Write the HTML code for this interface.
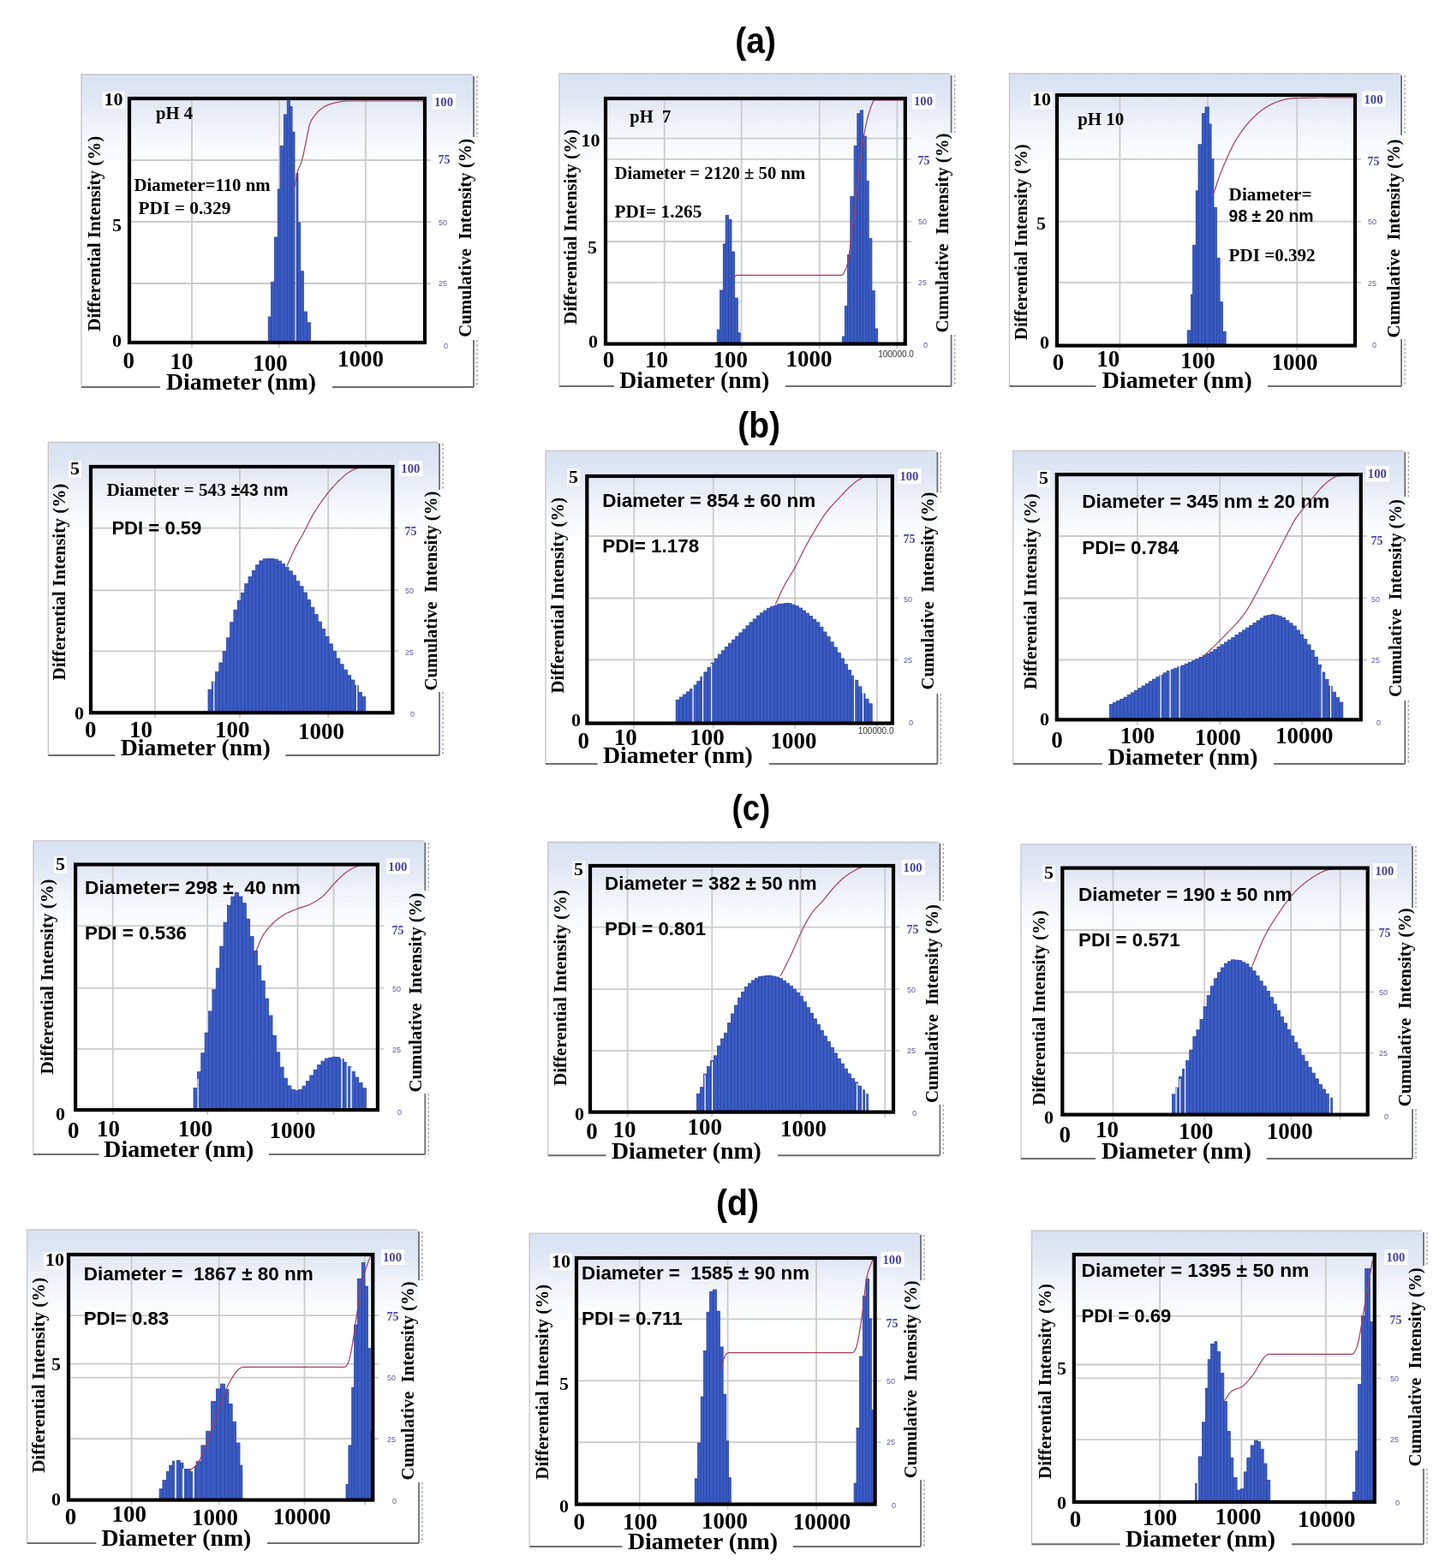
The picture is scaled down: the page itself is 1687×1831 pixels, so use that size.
<!DOCTYPE html>
<html><head><meta charset="utf-8"><title>DLS size distributions</title><style>html,body{margin:0;padding:0;background:#fff;overflow:hidden}svg{display:block}</style></head><body>
<svg width="1687" height="1831" viewBox="0 0 1687 1831">
<defs><linearGradient id="bg" x1="0" y1="0" x2="0" y2="1"><stop offset="0" stop-color="#d9e1f2"/><stop offset="0.08" stop-color="#e1e7f4"/><stop offset="0.16" stop-color="#eff2f9"/><stop offset="0.24" stop-color="#fafbfd"/><stop offset="0.3" stop-color="#ffffff"/><stop offset="1" stop-color="#ffffff"/></linearGradient></defs>
<rect width="1687" height="1831" fill="#fff"/>
<rect x="95" y="87" width="458" height="365" fill="url(#bg)"/>
<path d="M95,452 L95,87 L551,87" fill="none" stroke="#c6c6c6" stroke-width="1.3"/>
<path d="M95,452 L187,452 M388,452 L553,452" fill="none" stroke="#6e6e6e" stroke-width="2"/>
<line x1="553" y1="89" x2="553" y2="160" stroke="#6a6e76" stroke-width="1.8"/>
<line x1="557" y1="89" x2="557" y2="160" stroke="#9a9a9a" stroke-width="1.3" stroke-dasharray="2.5,2.5"/>
<line x1="553" y1="397" x2="553" y2="452" stroke="#6a6e76" stroke-width="1.8"/>
<line x1="557" y1="397" x2="557" y2="452" stroke="#9a9a9a" stroke-width="1.3" stroke-dasharray="2.5,2.5"/>
<path d="M224,113 L224,406 M326,113 L326,406 M427,113 L427,406 M149,187 L503,187 M149,259 L503,259 M149,331 L503,331" stroke="#cbcbcb" stroke-width="1.8" fill="none"/>
<g fill="#3a5bc3" stroke="#2a47a6" stroke-width="0.8"><rect x="313.20" y="370.00" width="3.40" height="28.50"/><rect x="316.60" y="329.40" width="3.70" height="69.10"/><rect x="320.30" y="277.00" width="3.90" height="121.50"/><rect x="324.20" y="221.00" width="2.90" height="177.50"/><rect x="327.10" y="170.30" width="4.20" height="228.20"/><rect x="331.30" y="133.90" width="3.90" height="264.60"/><rect x="335.20" y="116.00" width="3.40" height="282.50"/><rect x="338.60" y="124.50" width="2.50" height="274.00"/><rect x="341.10" y="154.20" width="2.90" height="244.30"/></g>
<g fill="#3a5bc3" stroke="#2a47a6" stroke-width="0.8"><rect x="346.00" y="202.40" width="2.00" height="196.10"/><rect x="348.00" y="260.00" width="2.80" height="138.50"/><rect x="350.80" y="316.70" width="3.70" height="81.80"/><rect x="354.50" y="364.00" width="3.90" height="34.50"/><rect x="358.40" y="376.80" width="4.20" height="21.70"/></g>
<path d="M343.8,219.3 L344.4,215.9 L345.0,212.4 L345.5,208.9 L346.1,205.7 L346.7,203.0 L347.2,201.1 L347.7,199.4 L348.2,198.0 L348.7,196.7 L349.2,195.6 L349.7,194.5 L350.2,193.5 L350.7,192.4 L351.2,191.2 L351.7,189.9 L352.2,188.4 L352.7,186.7 L353.2,184.5 L353.8,182.1 L354.4,179.6 L354.9,176.9 L355.4,174.1 L356.0,171.4 L356.6,168.6 L357.1,166.0 L357.6,163.6 L358.1,161.1 L358.6,158.6 L359.1,156.0 L359.6,153.5 L360.1,151.2 L360.6,148.9 L361.1,146.9 L361.6,145.2 L362.1,143.6 L362.7,142.2 L363.2,141.0 L363.7,140.0 L364.3,139.1 L364.8,138.3 L365.4,137.6 L365.9,136.9 L366.4,136.3 L367.0,135.6 L367.5,134.9 L368.0,134.2 L368.5,133.5 L369.1,132.9 L369.6,132.2 L370.1,131.6 L370.6,131.1 L371.2,130.5 L371.7,130.0 L372.2,129.5 L372.7,129.0 L373.3,128.5 L373.8,128.0 L374.3,127.6 L374.8,127.2 L375.4,126.8 L375.9,126.4 L376.4,126.0 L376.9,125.6 L377.4,125.3 L377.9,125.0 L378.4,124.7 L379.0,124.4 L379.5,124.1 L380.0,123.9 L380.5,123.6 L381.0,123.4 L381.5,123.1 L382.0,122.9 L382.5,122.7 L383.0,122.5 L383.5,122.3 L384.1,122.1 L384.6,121.9 L385.1,121.8 L385.6,121.6 L386.1,121.4 L386.6,121.3 L387.1,121.1 L387.6,121.0 L388.1,120.8 L388.6,120.7 L389.2,120.6 L389.7,120.4 L390.2,120.3 L390.7,120.1 L391.2,120.0 L391.7,119.9 L392.2,119.7 L392.7,119.6 L393.2,119.5 L393.8,119.4 L394.3,119.3 L394.8,119.2 L395.3,119.0 L395.8,119.0 L396.3,118.9 L396.8,118.8 L397.3,118.7 L397.8,118.6 L398.3,118.5 L398.9,118.5 L399.4,118.4 L399.9,118.3 L400.4,118.3 L400.9,118.2 L401.4,118.2 L401.9,118.2 L402.4,118.1 L402.9,118.1 L403.4,118.1 L404.0,118.0 L404.5,118.0 L405.0,118.0 L405.5,118.0 L406.0,118.0 L406.5,118.0 L407.0,118.0 L407.5,118.0 L408.0,118.0 L408.5,118.0 L409.0,118.0 L409.5,118.0 L410.0,118.0 L410.5,118.0 L411.0,118.0 L411.5,118.0 L412.0,118.0 L412.5,118.0 L413.0,118.0 L413.5,118.0 L414.0,118.0 L414.5,118.0 L415.0,118.0 L415.5,118.0 L416.0,118.0 L416.5,118.0 L417.0,118.0 L417.5,118.0 L418.0,118.0 L418.5,118.0 L419.0,118.0 L419.5,118.0 L420.0,118.0 L420.5,118.0 L421.0,118.0 L421.5,118.0 L422.0,118.0 L422.5,118.0 L423.0,118.0 L423.5,118.0 L424.0,118.0 L424.5,118.0 L425.0,118.0 L425.5,118.0 L426.0,118.0 L426.5,118.0 L427.0,118.0 L427.5,118.0 L428.0,118.0 L428.5,118.0 L429.0,118.0 L429.5,118.0 L430.0,118.0 L430.5,118.0 L431.0,118.0 L431.5,118.0 L432.0,118.0 L432.5,118.0 L433.0,118.0 L433.5,118.0 L434.0,118.0 L434.5,118.0 L435.0,118.0 L435.5,118.0 L436.0,118.0 L436.5,118.0 L437.0,118.0 L437.5,118.0 L438.0,118.0 L438.5,118.0 L439.0,118.0 L439.5,118.0 L440.0,118.0 L440.5,118.0 L441.0,118.0 L441.5,118.0 L442.0,118.0 L442.5,118.0 L443.0,118.0 L443.5,118.0 L444.0,118.0 L444.5,118.0 L445.0,118.0 L445.5,118.0 L446.0,118.0 L446.5,118.0 L447.0,118.0 L447.5,118.0 L448.0,118.0 L448.5,118.0 L449.0,118.0 L449.5,118.0 L450.0,118.0 L450.5,118.0 L451.0,118.0 L451.5,118.0 L452.0,118.0 L452.5,118.0 L453.0,118.0 L453.5,118.0 L454.0,118.0 L454.5,118.0 L455.0,118.0 L455.5,118.0 L456.0,118.0 L456.5,118.0 L457.0,118.0 L457.5,118.0 L458.0,118.0 L458.5,118.0 L459.0,118.0 L459.5,118.0 L460.0,118.0 L460.5,118.0 L461.0,118.0 L461.5,118.0 L462.0,118.0 L462.5,118.0 L463.0,118.0 L463.5,118.0 L464.0,118.0 L464.5,118.0 L465.0,118.0 L465.5,118.0 L466.0,118.0 L466.5,118.0 L467.0,118.0 L467.5,118.0 L468.0,118.0 L468.5,118.0 L469.0,118.0 L469.5,118.0 L470.0,118.0 L470.5,118.0 L471.0,118.0 L471.5,118.0 L472.0,118.0 L472.5,118.0 L473.0,118.0 L473.5,118.0 L474.0,118.0 L474.5,118.0 L475.0,118.0 L475.5,118.0 L476.0,118.0 L476.5,118.0 L477.0,118.0 L477.5,118.0 L478.0,118.0 L478.5,118.0 L479.0,118.0 L479.5,118.0 L480.0,118.0 L480.5,118.0 L481.0,118.0 L481.5,118.0 L482.0,118.0 L482.5,118.0 L483.0,118.0 L483.5,118.0 L484.0,118.0 L484.5,118.0 L485.0,118.0 L485.5,118.0 L486.0,118.0 L486.5,118.0 L487.0,118.0 L487.5,118.0 L488.0,118.0 L488.5,118.0 L489.0,118.0 L489.5,118.0 L490.0,118.0 L490.5,118.0 L491.0,118.0 L491.5,118.0 L492.0,118.0 L492.5,118.0 L493.0,118.0 L493.5,118.0 L494.0,118.0 L494.5,118.0 L495.0,118.0" fill="none" stroke="#a83a58" stroke-width="1.2" stroke-linejoin="round"/>
<rect x="151" y="115" width="345" height="285" fill="none" stroke="#000" stroke-width="4.2"/>
<rect x="119.5" y="107.0" width="26.0" height="20" fill="#fff" opacity="0.85"/>
<text x="143.5" y="123.0" font-size="22" font-family="'Liberation Serif', 'Times New Roman', serif" font-weight="bold" fill="#000" text-anchor="end">10</text>
<rect x="129.0" y="253.5" width="15.0" height="20" fill="#fff" opacity="0.85"/>
<text x="142.0" y="269.5" font-size="22" font-family="'Liberation Serif', 'Times New Roman', serif" font-weight="bold" fill="#000" text-anchor="end">5</text>
<rect x="129.0" y="388.5" width="15.0" height="20" fill="#fff" opacity="0.85"/>
<text x="142.0" y="404.5" font-size="22" font-family="'Liberation Serif', 'Times New Roman', serif" font-weight="bold" fill="#000" text-anchor="end">0</text>
<rect x="505.0" y="109.5" width="27" height="18" fill="#fff"/>
<text x="507.0" y="123.5" font-size="15" font-family="'Liberation Serif', 'Times New Roman', serif" font-weight="bold" fill="#4444a4" textLength="22.0" lengthAdjust="spacingAndGlyphs">100</text>
<text x="511.5" y="191.0" font-size="14" font-family="'Liberation Serif', 'Times New Roman', serif" font-weight="bold" fill="#4848aa" textLength="14.0" lengthAdjust="spacingAndGlyphs">75</text>
<text x="512.0" y="262.8" font-size="9" font-family="'Liberation Sans', Arial, sans-serif" font-weight="normal" fill="#5858a8">50</text>
<text x="512.0" y="334.2" font-size="9" font-family="'Liberation Sans', Arial, sans-serif" font-weight="normal" fill="#5858a8">25</text>
<text x="518.0" y="407.2" font-size="9" font-family="'Liberation Sans', Arial, sans-serif" font-weight="normal" fill="#5858a8">0</text>
<text x="150.2" y="430.0" font-size="27.5" font-family="'Liberation Serif', 'Times New Roman', serif" font-weight="bold" fill="#000" text-anchor="middle" textLength="13.5" lengthAdjust="spacingAndGlyphs">0</text>
<text x="212.0" y="431.0" font-size="27.5" font-family="'Liberation Serif', 'Times New Roman', serif" font-weight="bold" fill="#000" text-anchor="middle" textLength="27.0" lengthAdjust="spacingAndGlyphs">10</text>
<text x="315.6" y="433.0" font-size="27.5" font-family="'Liberation Serif', 'Times New Roman', serif" font-weight="bold" fill="#000" text-anchor="middle" textLength="40.5" lengthAdjust="spacingAndGlyphs">100</text>
<text x="421.0" y="428.0" font-size="27.5" font-family="'Liberation Serif', 'Times New Roman', serif" font-weight="bold" fill="#000" text-anchor="middle" textLength="54.0" lengthAdjust="spacingAndGlyphs">1000</text>
<text x="281.5" y="455.0" font-size="28" font-family="'Liberation Serif', 'Times New Roman', serif" font-weight="bold" fill="#000" text-anchor="middle" textLength="175.0" lengthAdjust="spacingAndGlyphs">Diameter (nm)</text>
<text x="117.2" y="272.7" font-size="21" font-family="'Liberation Serif', 'Times New Roman', serif" font-weight="bold" fill="#000" text-anchor="middle" textLength="228.0" lengthAdjust="spacingAndGlyphs" transform="rotate(-90 117.2 272.7)">Differential Intensity (%)</text>
<text x="549.8" y="277.8" font-size="21" font-family="'Liberation Serif', 'Times New Roman', serif" font-weight="bold" fill="#000" text-anchor="middle" textLength="232.0" lengthAdjust="spacingAndGlyphs" transform="rotate(-90 549.8 277.8)">Cumulative  Intensity (%)</text>
<text x="182.0" y="139.3" font-size="20" font-family="'Liberation Serif', 'Times New Roman', serif" font-weight="bold" fill="#000" textLength="43.0" lengthAdjust="spacingAndGlyphs">pH 4</text>
<text x="156.5" y="222.9" font-size="20" font-family="'Liberation Serif', 'Times New Roman', serif" font-weight="bold" fill="#000" textLength="159.0" lengthAdjust="spacingAndGlyphs">Diameter=110 nm</text>
<text x="161.5" y="250.4" font-size="20" font-family="'Liberation Serif', 'Times New Roman', serif" font-weight="bold" fill="#000" textLength="108.0" lengthAdjust="spacingAndGlyphs">PDI = 0.329</text>
<rect x="653" y="86" width="457.5999999999999" height="365" fill="url(#bg)"/>
<path d="M653,451 L653,86 L1108.6,86" fill="none" stroke="#c6c6c6" stroke-width="1.3"/>
<path d="M653,451 L717,451 M917,451 L1110.6,451" fill="none" stroke="#6e6e6e" stroke-width="2"/>
<line x1="1110.6" y1="88" x2="1110.6" y2="155" stroke="#6a6e76" stroke-width="1.8"/>
<line x1="1114.6" y1="88" x2="1114.6" y2="155" stroke="#9a9a9a" stroke-width="1.3" stroke-dasharray="2.5,2.5"/>
<line x1="1110.6" y1="391" x2="1110.6" y2="451" stroke="#6a6e76" stroke-width="1.8"/>
<line x1="1114.6" y1="391" x2="1114.6" y2="451" stroke="#9a9a9a" stroke-width="1.3" stroke-dasharray="2.5,2.5"/>
<path d="M775.7,113 L775.7,407.6 M865.6,113 L865.6,407.6 M956.7,113 L956.7,407.6 M1047.4,113 L1047.4,407.6 M705,161.7 L1063.8,161.7 M705,185.8 L1063.8,185.8 M705,258.7 L1063.8,258.7 M705,282 L1063.8,282 M705,329.8 L1063.8,329.8" stroke="#cbcbcb" stroke-width="1.8" fill="none"/>
<g fill="#3a5bc3" stroke="#2a47a6" stroke-width="0.8"><rect x="837.20" y="385.00" width="3.40" height="15.10"/><rect x="840.60" y="339.00" width="3.70" height="61.10"/><rect x="844.30" y="284.90" width="2.80" height="115.20"/><rect x="847.10" y="251.30" width="3.50" height="148.80"/><rect x="850.60" y="256.40" width="3.40" height="143.70"/><rect x="854.00" y="294.00" width="3.70" height="106.10"/><rect x="857.70" y="348.00" width="3.70" height="52.10"/><rect x="861.40" y="388.70" width="2.80" height="11.40"/></g>
<g fill="#3a5bc3" stroke="#2a47a6" stroke-width="0.8"><rect x="983.40" y="393.00" width="2.90" height="7.10"/><rect x="986.30" y="357.40" width="3.10" height="42.70"/><rect x="989.40" y="297.70" width="3.40" height="102.40"/><rect x="992.80" y="229.40" width="4.30" height="170.70"/><rect x="997.10" y="170.50" width="3.70" height="229.60"/><rect x="1000.80" y="132.60" width="3.40" height="267.50"/><rect x="1004.20" y="128.90" width="3.40" height="271.20"/><rect x="1007.60" y="159.10" width="3.70" height="241.00"/><rect x="1011.30" y="211.50" width="2.90" height="188.60"/><rect x="1014.20" y="278.60" width="3.70" height="121.50"/><rect x="1017.90" y="339.50" width="3.40" height="60.60"/><rect x="1021.30" y="383.90" width="3.40" height="16.20"/></g>
<path d="M856.8,324.1 L857.3,323.7 L857.9,323.1 L858.4,322.6 L858.9,322.1 L859.4,321.7 L860.0,321.4 L860.5,321.3 L861.0,321.3 L861.5,321.3 L862.0,321.3 L862.5,321.3 L863.0,321.3 L863.5,321.3 L864.0,321.3 L864.5,321.3 L865.0,321.3 L865.5,321.3 L866.0,321.3 L866.5,321.3 L867.0,321.3 L867.5,321.3 L868.0,321.3 L868.5,321.3 L869.0,321.3 L869.5,321.3 L870.0,321.3 L870.5,321.3 L871.0,321.3 L871.5,321.3 L872.0,321.3 L872.5,321.3 L873.0,321.3 L873.5,321.3 L874.0,321.3 L874.5,321.3 L875.0,321.3 L875.5,321.3 L876.1,321.3 L876.6,321.3 L877.1,321.3 L877.6,321.3 L878.1,321.3 L878.6,321.3 L879.1,321.3 L879.6,321.3 L880.1,321.3 L880.6,321.3 L881.1,321.3 L881.6,321.3 L882.1,321.3 L882.6,321.3 L883.1,321.3 L883.6,321.3 L884.1,321.3 L884.6,321.3 L885.1,321.3 L885.6,321.3 L886.1,321.3 L886.6,321.3 L887.1,321.3 L887.6,321.3 L888.1,321.3 L888.6,321.3 L889.1,321.3 L889.6,321.3 L890.1,321.3 L890.6,321.3 L891.1,321.3 L891.6,321.3 L892.1,321.3 L892.6,321.3 L893.1,321.3 L893.6,321.3 L894.1,321.3 L894.6,321.3 L895.1,321.3 L895.6,321.3 L896.1,321.3 L896.6,321.3 L897.1,321.3 L897.6,321.3 L898.1,321.3 L898.6,321.3 L899.1,321.3 L899.6,321.3 L900.1,321.3 L900.6,321.3 L901.1,321.3 L901.6,321.3 L902.1,321.3 L902.6,321.3 L903.1,321.3 L903.6,321.3 L904.1,321.3 L904.6,321.3 L905.1,321.3 L905.6,321.3 L906.1,321.3 L906.7,321.3 L907.2,321.3 L907.7,321.3 L908.2,321.3 L908.7,321.3 L909.2,321.3 L909.7,321.3 L910.2,321.3 L910.7,321.3 L911.2,321.3 L911.7,321.3 L912.2,321.3 L912.7,321.3 L913.2,321.3 L913.7,321.3 L914.2,321.3 L914.7,321.3 L915.2,321.3 L915.7,321.3 L916.2,321.3 L916.7,321.3 L917.2,321.3 L917.7,321.3 L918.2,321.3 L918.7,321.3 L919.2,321.3 L919.7,321.3 L920.2,321.3 L920.7,321.3 L921.2,321.3 L921.7,321.3 L922.2,321.3 L922.7,321.3 L923.2,321.3 L923.7,321.3 L924.2,321.3 L924.7,321.3 L925.2,321.3 L925.7,321.3 L926.2,321.3 L926.7,321.3 L927.2,321.3 L927.7,321.3 L928.2,321.3 L928.7,321.3 L929.2,321.3 L929.7,321.3 L930.2,321.3 L930.7,321.3 L931.2,321.3 L931.7,321.3 L932.2,321.3 L932.7,321.3 L933.2,321.3 L933.7,321.3 L934.2,321.3 L934.7,321.3 L935.2,321.3 L935.7,321.3 L936.2,321.3 L936.7,321.3 L937.3,321.3 L937.8,321.3 L938.3,321.3 L938.8,321.3 L939.3,321.3 L939.8,321.3 L940.3,321.3 L940.8,321.3 L941.3,321.3 L941.8,321.3 L942.3,321.3 L942.8,321.3 L943.3,321.3 L943.8,321.3 L944.3,321.3 L944.8,321.3 L945.3,321.3 L945.8,321.3 L946.3,321.3 L946.8,321.3 L947.3,321.3 L947.8,321.3 L948.3,321.3 L948.8,321.3 L949.3,321.3 L949.8,321.3 L950.3,321.3 L950.8,321.3 L951.3,321.3 L951.8,321.3 L952.3,321.3 L952.8,321.3 L953.3,321.3 L953.8,321.3 L954.3,321.3 L954.8,321.3 L955.3,321.3 L955.8,321.3 L956.3,321.3 L956.8,321.3 L957.3,321.3 L957.8,321.3 L958.3,321.3 L958.8,321.3 L959.3,321.3 L959.8,321.3 L960.3,321.3 L960.8,321.3 L961.3,321.3 L961.8,321.3 L962.3,321.3 L962.8,321.3 L963.3,321.3 L963.8,321.3 L964.3,321.3 L964.8,321.3 L965.3,321.3 L965.8,321.3 L966.3,321.3 L966.8,321.3 L967.3,321.3 L967.9,321.3 L968.4,321.3 L968.9,321.3 L969.4,321.3 L969.9,321.3 L970.4,321.3 L970.9,321.3 L971.4,321.3 L971.9,321.3 L972.4,321.3 L972.9,321.3 L973.4,321.3 L973.9,321.3 L974.4,321.3 L974.9,321.3 L975.4,321.3 L975.9,321.3 L976.4,321.3 L976.9,321.3 L977.4,321.3 L977.9,321.3 L978.4,321.3 L978.9,321.3 L979.4,321.3 L979.9,321.3 L980.4,321.3 L980.9,321.3 L981.4,321.3 L981.9,321.3 L982.4,321.3 L982.9,321.3 L983.5,321.1 L984.0,320.6 L984.6,319.8 L985.1,318.8 L985.7,317.6 L986.2,316.5 L986.8,315.4 L987.3,314.2 L987.9,312.9 L988.4,311.4 L988.9,309.6 L989.5,307.4 L990.0,304.8 L990.5,302.0 L991.0,298.9 L991.5,295.5 L992.0,292.0 L992.5,288.3 L993.0,284.4 L993.5,280.3 L994.1,276.2 L994.6,272.0 L995.1,267.7 L995.6,263.4 L996.1,259.2 L996.6,254.9 L997.1,250.7 L997.6,246.5 L998.1,242.1 L998.6,237.6 L999.1,233.0 L999.6,228.3 L1000.1,223.6 L1000.7,218.9 L1001.2,214.2 L1001.7,209.6 L1002.2,205.0 L1002.7,200.6 L1003.2,196.3 L1003.7,192.1 L1004.2,188.1 L1004.7,184.2 L1005.2,180.4 L1005.8,176.7 L1006.3,173.1 L1006.8,169.6 L1007.3,166.2 L1007.8,162.9 L1008.3,159.8 L1008.9,156.8 L1009.4,153.9 L1009.9,151.1 L1010.4,148.5 L1010.9,145.9 L1011.5,143.6 L1012.0,141.3 L1012.5,139.2 L1013.0,137.1 L1013.5,135.2 L1014.0,133.4 L1014.6,131.6 L1015.1,130.0 L1015.6,128.4 L1016.1,126.9 L1016.6,125.3 L1017.2,123.9 L1017.7,122.5 L1018.2,121.2 L1018.7,120.0 L1019.2,119.0 L1019.7,118.2 L1020.3,117.5 L1020.8,117.1 L1021.3,117.0 L1021.8,117.0 L1022.3,117.0 L1022.8,117.0 L1023.3,117.0 L1023.8,117.0 L1024.3,117.0 L1024.8,117.0 L1025.3,117.0 L1025.8,117.0 L1026.3,117.0 L1026.8,117.0 L1027.3,117.0 L1027.8,117.0 L1028.3,117.0 L1028.8,117.0 L1029.3,117.0 L1029.9,117.0 L1030.4,117.0 L1030.9,117.0 L1031.4,117.0 L1031.9,117.0 L1032.4,117.0 L1032.9,117.0 L1033.4,117.0 L1033.9,117.0 L1034.4,117.0 L1034.9,117.0 L1035.4,117.0 L1035.9,117.0 L1036.4,117.0 L1036.9,117.0 L1037.4,117.0 L1037.9,117.0 L1038.4,117.0 L1038.9,117.0 L1039.4,117.0 L1039.9,117.0 L1040.4,117.0 L1040.9,117.0 L1041.4,117.0 L1041.9,117.0 L1042.4,117.0 L1042.9,117.0 L1043.4,117.0 L1043.9,117.0 L1044.4,117.0 L1044.9,117.0 L1045.4,117.0 L1045.9,117.0 L1046.4,117.0 L1047.0,117.0 L1047.5,117.0 L1048.0,117.0 L1048.5,117.0 L1049.0,117.0 L1049.5,117.0 L1050.0,117.0 L1050.5,117.0 L1051.0,117.0 L1051.5,117.0 L1052.0,117.0 L1052.5,117.0 L1053.0,117.0 L1053.5,117.0 L1054.0,117.0 L1054.5,117.0 L1055.0,117.0" fill="none" stroke="#a83a58" stroke-width="1.2" stroke-linejoin="round"/>
<rect x="707" y="115" width="349.79999999999995" height="286.6" fill="none" stroke="#000" stroke-width="4.2"/>
<rect x="676.5" y="155.0" width="26.0" height="20" fill="#fff" opacity="0.85"/>
<text x="700.5" y="171.0" font-size="22" font-family="'Liberation Serif', 'Times New Roman', serif" font-weight="bold" fill="#000" text-anchor="end">10</text>
<rect x="684.0" y="280.0" width="15.0" height="20" fill="#fff" opacity="0.85"/>
<text x="697.0" y="296.0" font-size="22" font-family="'Liberation Serif', 'Times New Roman', serif" font-weight="bold" fill="#000" text-anchor="end">5</text>
<rect x="685.0" y="390.0" width="15.0" height="20" fill="#fff" opacity="0.85"/>
<text x="698.0" y="406.0" font-size="22" font-family="'Liberation Serif', 'Times New Roman', serif" font-weight="bold" fill="#000" text-anchor="end">0</text>
<rect x="1065.0" y="109.4" width="27" height="18" fill="#fff"/>
<text x="1067.0" y="123.4" font-size="15" font-family="'Liberation Serif', 'Times New Roman', serif" font-weight="bold" fill="#4444a4" textLength="22.0" lengthAdjust="spacingAndGlyphs">100</text>
<text x="1071.5" y="191.7" font-size="14" font-family="'Liberation Serif', 'Times New Roman', serif" font-weight="bold" fill="#4848aa" textLength="14.0" lengthAdjust="spacingAndGlyphs">75</text>
<text x="1072.0" y="261.9" font-size="9" font-family="'Liberation Sans', Arial, sans-serif" font-weight="normal" fill="#5858a8">50</text>
<text x="1072.0" y="333.0" font-size="9" font-family="'Liberation Sans', Arial, sans-serif" font-weight="normal" fill="#5858a8">25</text>
<text x="1078.0" y="406.2" font-size="9" font-family="'Liberation Sans', Arial, sans-serif" font-weight="normal" fill="#5858a8">0</text>
<text x="710.6" y="429.0" font-size="27.5" font-family="'Liberation Serif', 'Times New Roman', serif" font-weight="bold" fill="#000" text-anchor="middle" textLength="13.5" lengthAdjust="spacingAndGlyphs">0</text>
<text x="766.6" y="429.0" font-size="27.5" font-family="'Liberation Serif', 'Times New Roman', serif" font-weight="bold" fill="#000" text-anchor="middle" textLength="27.0" lengthAdjust="spacingAndGlyphs">10</text>
<text x="852.8" y="429.0" font-size="27.5" font-family="'Liberation Serif', 'Times New Roman', serif" font-weight="bold" fill="#000" text-anchor="middle" textLength="40.5" lengthAdjust="spacingAndGlyphs">100</text>
<text x="944.4" y="428.0" font-size="27.5" font-family="'Liberation Serif', 'Times New Roman', serif" font-weight="bold" fill="#000" text-anchor="middle" textLength="54.0" lengthAdjust="spacingAndGlyphs">1000</text>
<text x="1046.0" y="416.5" font-size="10" font-family="'Liberation Sans', Arial, sans-serif" font-weight="normal" fill="#333" text-anchor="middle">100000.0</text>
<text x="810.7" y="453.0" font-size="28" font-family="'Liberation Serif', 'Times New Roman', serif" font-weight="bold" fill="#000" text-anchor="middle" textLength="175.0" lengthAdjust="spacingAndGlyphs">Diameter (nm)</text>
<text x="673.0" y="265.0" font-size="21" font-family="'Liberation Serif', 'Times New Roman', serif" font-weight="bold" fill="#000" text-anchor="middle" textLength="228.0" lengthAdjust="spacingAndGlyphs" transform="rotate(-90 673.0 265.0)">Differential Intensity (%)</text>
<text x="1107.0" y="272.0" font-size="21" font-family="'Liberation Serif', 'Times New Roman', serif" font-weight="bold" fill="#000" text-anchor="middle" textLength="233.0" lengthAdjust="spacingAndGlyphs" transform="rotate(-90 1107.0 272.0)">Cumulative  Intensity (%)</text>
<text x="735.3" y="143.0" font-size="20" font-family="'Liberation Serif', 'Times New Roman', serif" font-weight="bold" fill="#000" textLength="48.0" lengthAdjust="spacingAndGlyphs">pH  7</text>
<text x="717.4" y="208.6" font-size="20" font-family="'Liberation Serif', 'Times New Roman', serif" font-weight="bold" fill="#000" textLength="223.0" lengthAdjust="spacingAndGlyphs">Diameter = 2120 ± 50 nm</text>
<text x="717.4" y="254.1" font-size="20" font-family="'Liberation Serif', 'Times New Roman', serif" font-weight="bold" fill="#000" textLength="102.0" lengthAdjust="spacingAndGlyphs">PDI= 1.265</text>
<rect x="1178.5" y="86" width="457.5999999999999" height="365" fill="url(#bg)"/>
<path d="M1178.5,451 L1178.5,86 L1634.1,86" fill="none" stroke="#c6c6c6" stroke-width="1.3"/>
<path d="M1178.5,451 L1279.5,451 M1480,451 L1636.1,451" fill="none" stroke="#6e6e6e" stroke-width="2"/>
<line x1="1636.1" y1="88" x2="1636.1" y2="158" stroke="#6a6e76" stroke-width="1.8"/>
<line x1="1640.1" y1="88" x2="1640.1" y2="158" stroke="#9a9a9a" stroke-width="1.3" stroke-dasharray="2.5,2.5"/>
<line x1="1636.1" y1="396" x2="1636.1" y2="451" stroke="#6a6e76" stroke-width="1.8"/>
<line x1="1640.1" y1="396" x2="1640.1" y2="451" stroke="#9a9a9a" stroke-width="1.3" stroke-dasharray="2.5,2.5"/>
<path d="M1307.4,109 L1307.4,409.6 M1409.9,109 L1409.9,409.6 M1514.3,109 L1514.3,409.6 M1232,185.8 L1589,185.8 M1232,258.7 L1589,258.7 M1232,329.8 L1589,329.8" stroke="#cbcbcb" stroke-width="1.8" fill="none"/>
<g fill="#3a5bc3" stroke="#2a47a6" stroke-width="0.8"><rect x="1386.20" y="385.90" width="4.30" height="16.20"/><rect x="1390.50" y="344.00" width="2.00" height="58.10"/><rect x="1392.50" y="286.30" width="3.70" height="115.80"/><rect x="1396.20" y="222.80" width="2.80" height="179.30"/><rect x="1399.00" y="168.80" width="4.30" height="233.30"/><rect x="1403.30" y="132.60" width="3.70" height="269.50"/><rect x="1407.00" y="125.00" width="4.30" height="277.10"/><rect x="1411.30" y="144.90" width="2.80" height="257.20"/><rect x="1414.10" y="185.80" width="2.90" height="216.30"/><rect x="1417.00" y="242.20" width="3.40" height="159.90"/><rect x="1420.40" y="301.40" width="3.70" height="100.70"/><rect x="1424.10" y="352.60" width="3.40" height="49.50"/><rect x="1427.50" y="387.30" width="3.70" height="14.80"/></g>
<path d="M1416.1,228.0 L1416.6,226.6 L1417.1,225.1 L1417.6,223.7 L1418.1,222.2 L1418.6,220.7 L1419.1,219.2 L1419.6,217.8 L1420.1,216.3 L1420.6,214.8 L1421.1,213.3 L1421.6,211.9 L1422.1,210.4 L1422.6,209.0 L1423.1,207.6 L1423.6,206.2 L1424.1,204.8 L1424.6,203.4 L1425.1,202.1 L1425.6,200.8 L1426.1,199.5 L1426.6,198.2 L1427.1,197.0 L1427.6,195.7 L1428.1,194.5 L1428.6,193.2 L1429.1,192.0 L1429.6,190.8 L1430.2,189.6 L1430.7,188.4 L1431.2,187.2 L1431.7,186.1 L1432.2,184.9 L1432.7,183.8 L1433.2,182.7 L1433.7,181.5 L1434.2,180.4 L1434.7,179.3 L1435.2,178.3 L1435.7,177.2 L1436.2,176.1 L1436.8,175.1 L1437.3,174.1 L1437.8,173.1 L1438.3,172.1 L1438.8,171.1 L1439.3,170.1 L1439.8,169.1 L1440.3,168.2 L1440.8,167.3 L1441.3,166.4 L1441.8,165.5 L1442.3,164.6 L1442.8,163.7 L1443.3,162.8 L1443.8,162.0 L1444.4,161.2 L1444.9,160.4 L1445.4,159.6 L1445.9,158.8 L1446.4,158.0 L1446.9,157.2 L1447.4,156.5 L1447.9,155.7 L1448.4,155.0 L1448.9,154.3 L1449.4,153.6 L1449.9,152.9 L1450.4,152.2 L1451.0,151.5 L1451.5,150.8 L1452.0,150.1 L1452.5,149.5 L1453.0,148.8 L1453.5,148.2 L1454.0,147.5 L1454.5,146.9 L1455.0,146.3 L1455.5,145.7 L1456.0,145.1 L1456.5,144.5 L1457.0,143.9 L1457.5,143.3 L1458.0,142.7 L1458.5,142.1 L1459.0,141.6 L1459.5,141.0 L1460.0,140.5 L1460.5,139.9 L1461.0,139.4 L1461.5,138.9 L1462.0,138.4 L1462.5,137.9 L1463.0,137.4 L1463.6,136.9 L1464.1,136.4 L1464.6,135.9 L1465.1,135.4 L1465.6,135.0 L1466.1,134.5 L1466.6,134.0 L1467.1,133.6 L1467.6,133.2 L1468.1,132.7 L1468.6,132.3 L1469.1,131.9 L1469.6,131.4 L1470.1,131.0 L1470.6,130.6 L1471.1,130.2 L1471.6,129.8 L1472.1,129.4 L1472.6,129.0 L1473.1,128.6 L1473.6,128.3 L1474.1,127.9 L1474.6,127.5 L1475.1,127.2 L1475.6,126.8 L1476.1,126.5 L1476.6,126.2 L1477.1,125.8 L1477.6,125.5 L1478.1,125.2 L1478.6,124.9 L1479.1,124.6 L1479.6,124.3 L1480.2,124.0 L1480.7,123.7 L1481.2,123.4 L1481.7,123.1 L1482.2,122.9 L1482.7,122.6 L1483.2,122.3 L1483.7,122.1 L1484.2,121.8 L1484.7,121.6 L1485.2,121.3 L1485.7,121.1 L1486.2,120.9 L1486.7,120.7 L1487.2,120.4 L1487.7,120.2 L1488.2,120.0 L1488.7,119.8 L1489.2,119.6 L1489.7,119.4 L1490.2,119.2 L1490.7,119.0 L1491.2,118.8 L1491.7,118.6 L1492.2,118.5 L1492.7,118.3 L1493.2,118.1 L1493.7,118.0 L1494.2,117.8 L1494.8,117.6 L1495.3,117.5 L1495.8,117.3 L1496.3,117.2 L1496.8,117.0 L1497.3,116.9 L1497.8,116.8 L1498.3,116.6 L1498.8,116.5 L1499.3,116.4 L1499.8,116.3 L1500.3,116.2 L1500.8,116.0 L1501.3,115.9 L1501.8,115.8 L1502.3,115.7 L1502.8,115.6 L1503.3,115.6 L1503.8,115.5 L1504.3,115.4 L1504.8,115.3 L1505.3,115.2 L1505.9,115.2 L1506.4,115.1 L1506.9,115.0 L1507.4,115.0 L1507.9,114.9 L1508.4,114.9 L1508.9,114.8 L1509.4,114.8 L1509.9,114.8 L1510.4,114.7 L1510.9,114.7 L1511.4,114.7 L1511.9,114.7 L1512.4,114.7 L1512.9,114.6 L1513.4,114.6 L1513.9,114.6 L1514.4,114.6 L1514.9,114.6 L1515.4,114.6 L1515.9,114.5 L1516.4,114.5 L1516.9,114.5 L1517.4,114.5 L1517.9,114.5 L1518.4,114.5 L1518.9,114.4 L1519.4,114.4 L1519.9,114.4 L1520.4,114.4 L1520.9,114.4 L1521.4,114.4 L1521.9,114.4 L1522.4,114.3 L1522.9,114.3 L1523.4,114.3 L1523.9,114.3 L1524.4,114.3 L1524.9,114.3 L1525.4,114.3 L1525.9,114.3 L1526.4,114.3 L1526.9,114.2 L1527.4,114.2 L1527.9,114.2 L1528.4,114.2 L1528.9,114.2 L1529.4,114.2 L1529.9,114.2 L1530.4,114.2 L1530.9,114.2 L1531.4,114.1 L1531.9,114.1 L1532.4,114.1 L1532.9,114.1 L1533.4,114.1 L1533.9,114.1 L1534.4,114.1 L1534.9,114.1 L1535.4,114.1 L1535.9,114.1 L1536.4,114.1 L1536.9,114.1 L1537.4,114.1 L1537.9,114.0 L1538.4,114.0 L1538.9,114.0 L1539.4,114.0 L1539.9,114.0 L1540.4,114.0 L1540.9,114.0 L1541.4,114.0 L1541.9,114.0 L1542.4,114.0 L1542.9,114.0 L1543.4,114.0 L1543.9,114.0 L1544.4,114.0 L1544.9,114.0 L1545.4,114.0 L1545.9,114.0 L1546.4,114.0 L1547.0,113.9 L1547.5,113.9 L1548.0,113.9 L1548.5,113.9 L1549.0,113.9 L1549.5,113.9 L1550.0,113.9 L1550.5,113.9 L1551.0,113.9 L1551.5,113.9 L1552.0,113.9 L1552.5,113.9 L1553.0,113.9 L1553.5,113.9 L1554.0,113.9 L1554.5,113.9 L1555.0,113.9 L1555.5,113.9 L1556.0,113.9 L1556.5,113.9 L1557.0,113.9 L1557.5,113.9 L1558.0,113.9 L1558.5,113.9 L1559.0,113.9 L1559.5,113.9 L1560.0,113.9 L1560.5,113.9 L1561.0,113.9 L1561.5,113.9 L1562.0,113.9 L1562.5,113.9 L1563.0,113.9 L1563.5,113.9 L1564.0,113.9 L1564.5,113.9 L1565.0,113.9 L1565.5,113.9 L1566.0,113.9 L1566.5,113.8 L1567.0,113.8 L1567.5,113.8 L1568.0,113.8 L1568.5,113.8 L1569.0,113.8 L1569.5,113.8 L1570.0,113.8 L1570.5,113.8 L1571.0,113.8 L1571.5,113.8 L1572.0,113.8 L1572.5,113.8 L1573.0,113.8 L1573.5,113.8 L1574.0,113.8 L1574.5,113.8 L1575.0,113.8 L1575.5,113.8 L1576.0,113.8 L1576.5,113.8 L1577.0,113.8 L1577.5,113.8 L1578.0,113.8 L1578.5,113.8 L1579.0,113.8 L1579.5,113.8 L1580.0,113.8 L1580.5,113.8 L1581.0,113.8 L1581.5,113.8 L1582.0,113.8" fill="none" stroke="#a83a58" stroke-width="1.2" stroke-linejoin="round"/>
<rect x="1234" y="111" width="348" height="292.6" fill="none" stroke="#000" stroke-width="4.2"/>
<rect x="1203.0" y="107.3" width="26.0" height="20" fill="#fff" opacity="0.85"/>
<text x="1227.0" y="123.3" font-size="22" font-family="'Liberation Serif', 'Times New Roman', serif" font-weight="bold" fill="#000" text-anchor="end">10</text>
<rect x="1208.0" y="252.0" width="15.0" height="20" fill="#fff" opacity="0.85"/>
<text x="1221.0" y="268.0" font-size="22" font-family="'Liberation Serif', 'Times New Roman', serif" font-weight="bold" fill="#000" text-anchor="end">5</text>
<rect x="1212.0" y="390.5" width="15.0" height="20" fill="#fff" opacity="0.85"/>
<text x="1225.0" y="406.5" font-size="22" font-family="'Liberation Serif', 'Times New Roman', serif" font-weight="bold" fill="#000" text-anchor="end">0</text>
<rect x="1590.5" y="106.6" width="27" height="18" fill="#fff"/>
<text x="1592.5" y="120.6" font-size="15" font-family="'Liberation Serif', 'Times New Roman', serif" font-weight="bold" fill="#4444a4" textLength="22.0" lengthAdjust="spacingAndGlyphs">100</text>
<text x="1596.5" y="193.0" font-size="14" font-family="'Liberation Serif', 'Times New Roman', serif" font-weight="bold" fill="#4848aa" textLength="14.0" lengthAdjust="spacingAndGlyphs">75</text>
<text x="1597.0" y="261.9" font-size="9" font-family="'Liberation Sans', Arial, sans-serif" font-weight="normal" fill="#5858a8">50</text>
<text x="1597.0" y="333.6" font-size="9" font-family="'Liberation Sans', Arial, sans-serif" font-weight="normal" fill="#5858a8">25</text>
<text x="1602.0" y="406.2" font-size="9" font-family="'Liberation Sans', Arial, sans-serif" font-weight="normal" fill="#5858a8">0</text>
<text x="1235.4" y="431.9" font-size="27.5" font-family="'Liberation Serif', 'Times New Roman', serif" font-weight="bold" fill="#000" text-anchor="middle" textLength="13.5" lengthAdjust="spacingAndGlyphs">0</text>
<text x="1293.8" y="427.6" font-size="27.5" font-family="'Liberation Serif', 'Times New Roman', serif" font-weight="bold" fill="#000" text-anchor="middle" textLength="27.0" lengthAdjust="spacingAndGlyphs">10</text>
<text x="1398.5" y="430.4" font-size="27.5" font-family="'Liberation Serif', 'Times New Roman', serif" font-weight="bold" fill="#000" text-anchor="middle" textLength="40.5" lengthAdjust="spacingAndGlyphs">100</text>
<text x="1511.4" y="431.9" font-size="27.5" font-family="'Liberation Serif', 'Times New Roman', serif" font-weight="bold" fill="#000" text-anchor="middle" textLength="54.0" lengthAdjust="spacingAndGlyphs">1000</text>
<text x="1374.3" y="453.0" font-size="28" font-family="'Liberation Serif', 'Times New Roman', serif" font-weight="bold" fill="#000" text-anchor="middle" textLength="175.0" lengthAdjust="spacingAndGlyphs">Diameter (nm)</text>
<text x="1198.8" y="282.7" font-size="21" font-family="'Liberation Serif', 'Times New Roman', serif" font-weight="bold" fill="#000" text-anchor="middle" textLength="229.0" lengthAdjust="spacingAndGlyphs" transform="rotate(-90 1198.8 282.7)">Differential Intensity (%)</text>
<text x="1634.0" y="278.5" font-size="21" font-family="'Liberation Serif', 'Times New Roman', serif" font-weight="bold" fill="#000" text-anchor="middle" textLength="232.0" lengthAdjust="spacingAndGlyphs" transform="rotate(-90 1634.0 278.5)">Cumulative  Intensity (%)</text>
<text x="1258.2" y="146.0" font-size="20" font-family="'Liberation Serif', 'Times New Roman', serif" font-weight="bold" fill="#000" textLength="54.0" lengthAdjust="spacingAndGlyphs">pH 10</text>
<text x="1434.6" y="233.6" font-size="20" font-family="'Liberation Serif', 'Times New Roman', serif" font-weight="bold" fill="#000" textLength="97.0" lengthAdjust="spacingAndGlyphs">Diameter=</text>
<text x="1434.6" y="258.7" font-size="20" font-family="'Liberation Sans', Arial, sans-serif" font-weight="bold" fill="#000" textLength="99.0" lengthAdjust="spacingAndGlyphs">98 ± 20 nm</text>
<text x="1434.6" y="304.8" font-size="20" font-family="'Liberation Serif', 'Times New Roman', serif" font-weight="bold" fill="#000" textLength="101.0" lengthAdjust="spacingAndGlyphs">PDI =0.392</text>
<rect x="56.3" y="516.5" width="456.7" height="365.5" fill="url(#bg)"/>
<path d="M56.3,882 L56.3,516.5 L511,516.5" fill="none" stroke="#c6c6c6" stroke-width="1.3"/>
<path d="M56.3,882 L134.3,882 M333.4,882 L513,882" fill="none" stroke="#6e6e6e" stroke-width="2"/>
<line x1="513" y1="518" x2="513" y2="572" stroke="#6a6e76" stroke-width="1.8"/>
<line x1="517" y1="518" x2="517" y2="572" stroke="#9a9a9a" stroke-width="1.3" stroke-dasharray="2.5,2.5"/>
<line x1="513" y1="808" x2="513" y2="882" stroke="#6a6e76" stroke-width="1.8"/>
<line x1="517" y1="808" x2="517" y2="882" stroke="#9a9a9a" stroke-width="1.3" stroke-dasharray="2.5,2.5"/>
<path d="M180.8,543 L180.8,838.3 M280,543 L280,838.3 M383.2,543 L383.2,838.3 M104,616.7 L465.4,616.7 M104,689.3 L465.4,689.3 M104,760.4 L465.4,760.4" stroke="#cbcbcb" stroke-width="1.8" fill="none"/>
<g fill="#3a5bc3" stroke="#2a47a6" stroke-width="0.8"><rect x="243.00" y="805.30" width="4.27" height="25.50"/><rect x="247.27" y="796.06" width="4.27" height="34.74"/><rect x="251.55" y="784.71" width="4.27" height="46.09"/><rect x="255.82" y="773.97" width="4.27" height="56.83"/><rect x="260.10" y="760.63" width="4.27" height="70.17"/><rect x="264.37" y="744.86" width="4.27" height="85.94"/><rect x="268.65" y="726.67" width="4.27" height="104.13"/><rect x="272.92" y="712.28" width="4.27" height="118.52"/><rect x="277.20" y="701.13" width="4.27" height="129.67"/><rect x="281.47" y="692.29" width="4.27" height="138.51"/><rect x="285.74" y="681.68" width="4.27" height="149.12"/><rect x="290.02" y="673.39" width="4.27" height="157.41"/><rect x="294.29" y="666.29" width="4.27" height="164.51"/><rect x="298.57" y="659.84" width="4.27" height="170.96"/><rect x="302.84" y="654.88" width="4.27" height="175.92"/><rect x="307.12" y="652.77" width="4.27" height="178.03"/><rect x="311.39" y="652.56" width="4.27" height="178.24"/><rect x="315.67" y="652.34" width="4.27" height="178.46"/><rect x="319.94" y="653.12" width="4.27" height="177.68"/><rect x="324.21" y="655.09" width="4.27" height="175.71"/><rect x="328.49" y="658.33" width="4.27" height="172.47"/><rect x="332.76" y="662.60" width="4.27" height="168.20"/><rect x="337.04" y="666.87" width="4.27" height="163.93"/><rect x="341.31" y="671.85" width="4.27" height="158.95"/><rect x="345.59" y="678.73" width="4.27" height="152.07"/><rect x="349.86" y="684.75" width="4.27" height="146.05"/><rect x="354.13" y="691.98" width="4.27" height="138.82"/><rect x="358.41" y="700.59" width="4.27" height="130.21"/><rect x="362.68" y="709.14" width="4.27" height="121.66"/><rect x="366.96" y="717.64" width="4.27" height="113.16"/><rect x="371.23" y="726.14" width="4.27" height="104.66"/><rect x="375.51" y="734.69" width="4.27" height="96.11"/><rect x="379.78" y="743.31" width="4.27" height="87.49"/><rect x="384.06" y="751.93" width="4.27" height="78.87"/><rect x="388.33" y="760.51" width="4.27" height="70.29"/><rect x="392.60" y="768.92" width="4.27" height="61.88"/><rect x="396.88" y="775.80" width="4.27" height="55.00"/><rect x="401.15" y="782.25" width="4.27" height="48.55"/><rect x="405.43" y="788.68" width="4.27" height="42.12"/><rect x="409.70" y="794.04" width="4.27" height="36.76"/><rect x="413.98" y="800.46" width="4.27" height="30.34"/><rect x="418.25" y="808.43" width="4.27" height="22.37"/><rect x="422.53" y="813.72" width="4.27" height="17.08"/></g>
<rect x="249.20" y="780.00" width="1.20" height="50.80" fill="#fff"/>
<rect x="416.00" y="780.00" width="1.20" height="50.80" fill="#fff"/>
<path d="M334.9,661.2 L335.4,660.1 L335.9,658.9 L336.4,657.8 L336.9,656.6 L337.4,655.5 L337.9,654.3 L338.4,653.2 L338.9,652.0 L339.4,650.9 L340.0,649.7 L340.5,648.6 L341.0,647.5 L341.5,646.3 L342.0,645.2 L342.5,644.1 L343.0,643.1 L343.5,642.0 L344.0,641.0 L344.5,640.0 L345.0,639.0 L345.5,638.0 L346.0,637.1 L346.6,636.1 L347.1,635.2 L347.6,634.3 L348.1,633.4 L348.6,632.5 L349.1,631.6 L349.6,630.7 L350.1,629.8 L350.6,629.0 L351.1,628.1 L351.6,627.2 L352.2,626.3 L352.7,625.4 L353.2,624.5 L353.7,623.5 L354.2,622.6 L354.7,621.6 L355.2,620.7 L355.7,619.7 L356.3,618.7 L356.8,617.7 L357.3,616.7 L357.8,615.7 L358.3,614.6 L358.8,613.6 L359.3,612.6 L359.8,611.6 L360.4,610.5 L360.9,609.5 L361.4,608.5 L361.9,607.5 L362.4,606.5 L362.9,605.6 L363.4,604.6 L363.9,603.6 L364.5,602.7 L365.0,601.8 L365.5,600.9 L366.0,600.0 L366.5,599.1 L367.0,598.3 L367.5,597.4 L368.0,596.6 L368.6,595.8 L369.1,595.0 L369.6,594.2 L370.1,593.4 L370.6,592.6 L371.1,591.8 L371.6,591.0 L372.1,590.3 L372.6,589.5 L373.1,588.8 L373.7,588.0 L374.2,587.3 L374.7,586.5 L375.2,585.8 L375.7,585.1 L376.2,584.4 L376.7,583.7 L377.2,583.0 L377.7,582.3 L378.2,581.6 L378.8,580.9 L379.3,580.2 L379.8,579.5 L380.3,578.9 L380.8,578.2 L381.3,577.5 L381.8,576.9 L382.3,576.2 L382.8,575.6 L383.3,575.0 L383.8,574.3 L384.4,573.7 L384.9,573.1 L385.4,572.5 L385.9,571.9 L386.4,571.3 L386.9,570.7 L387.4,570.1 L387.9,569.5 L388.4,569.0 L388.9,568.4 L389.4,567.8 L389.9,567.3 L390.4,566.7 L390.9,566.2 L391.4,565.6 L392.0,565.1 L392.5,564.6 L393.0,564.1 L393.5,563.5 L394.0,563.0 L394.5,562.5 L395.0,562.0 L395.5,561.5 L396.0,561.0 L396.5,560.5 L397.0,560.0 L397.5,559.6 L398.0,559.1 L398.5,558.6 L399.0,558.2 L399.5,557.7 L400.0,557.2 L400.5,556.8 L401.0,556.3 L401.5,555.9 L402.0,555.5 L402.5,555.1 L403.0,554.7 L403.5,554.2 L404.0,553.9 L404.5,553.5 L405.0,553.1 L405.5,552.7 L406.0,552.3 L406.5,552.0 L407.0,551.7 L407.5,551.3 L408.0,551.0 L408.5,550.7 L409.0,550.4 L409.6,550.1 L410.1,549.8 L410.6,549.5 L411.1,549.3 L411.6,549.0 L412.1,548.8 L412.7,548.5 L413.2,548.3 L413.7,548.1 L414.2,547.9 L414.7,547.7 L415.3,547.5 L415.8,547.3 L416.3,547.1 L416.8,547.0 L417.3,546.8 L417.8,546.6 L418.4,546.5 L418.9,546.3 L419.4,546.2 L419.9,546.1 L420.4,546.0 L420.9,545.9 L421.4,545.8 L421.9,545.8 L422.5,545.7 L423.0,545.7 L423.5,545.6 L424.0,545.6 L424.5,545.6 L425.0,545.5" fill="none" stroke="#a83a58" stroke-width="1.2" stroke-linejoin="round"/>
<rect x="106" y="545" width="352.4" height="287.29999999999995" fill="none" stroke="#000" stroke-width="4.2"/>
<rect x="80.0" y="538.0" width="15.0" height="20" fill="#fff" opacity="0.85"/>
<text x="93.0" y="554.0" font-size="22" font-family="'Liberation Serif', 'Times New Roman', serif" font-weight="bold" fill="#000" text-anchor="end">5</text>
<rect x="85.0" y="824.0" width="15.0" height="20" fill="#fff" opacity="0.85"/>
<text x="98.0" y="840.0" font-size="22" font-family="'Liberation Serif', 'Times New Roman', serif" font-weight="bold" fill="#000" text-anchor="end">0</text>
<rect x="466.3" y="538.0" width="27" height="18" fill="#fff"/>
<text x="468.3" y="552.0" font-size="15" font-family="'Liberation Serif', 'Times New Roman', serif" font-weight="bold" fill="#4444a4" textLength="22.0" lengthAdjust="spacingAndGlyphs">100</text>
<text x="472.5" y="625.3" font-size="14" font-family="'Liberation Serif', 'Times New Roman', serif" font-weight="bold" fill="#4848aa" textLength="14.0" lengthAdjust="spacingAndGlyphs">75</text>
<text x="473.0" y="692.5" font-size="9" font-family="'Liberation Sans', Arial, sans-serif" font-weight="normal" fill="#5858a8">50</text>
<text x="473.0" y="764.5" font-size="9" font-family="'Liberation Sans', Arial, sans-serif" font-weight="normal" fill="#5858a8">25</text>
<text x="479.0" y="836.8" font-size="9" font-family="'Liberation Sans', Arial, sans-serif" font-weight="normal" fill="#5858a8">0</text>
<text x="105.8" y="861.3" font-size="27.5" font-family="'Liberation Serif', 'Times New Roman', serif" font-weight="bold" fill="#000" text-anchor="middle" textLength="13.5" lengthAdjust="spacingAndGlyphs">0</text>
<text x="164.5" y="861.3" font-size="27.5" font-family="'Liberation Serif', 'Times New Roman', serif" font-weight="bold" fill="#000" text-anchor="middle" textLength="27.0" lengthAdjust="spacingAndGlyphs">10</text>
<text x="271.2" y="861.3" font-size="27.5" font-family="'Liberation Serif', 'Times New Roman', serif" font-weight="bold" fill="#000" text-anchor="middle" textLength="40.5" lengthAdjust="spacingAndGlyphs">100</text>
<text x="374.9" y="862.8" font-size="27.5" font-family="'Liberation Serif', 'Times New Roman', serif" font-weight="bold" fill="#000" text-anchor="middle" textLength="54.0" lengthAdjust="spacingAndGlyphs">1000</text>
<text x="228.2" y="882.0" font-size="28" font-family="'Liberation Serif', 'Times New Roman', serif" font-weight="bold" fill="#000" text-anchor="middle" textLength="175.0" lengthAdjust="spacingAndGlyphs">Diameter (nm)</text>
<text x="75.6" y="679.6" font-size="21" font-family="'Liberation Serif', 'Times New Roman', serif" font-weight="bold" fill="#000" text-anchor="middle" textLength="230.0" lengthAdjust="spacingAndGlyphs" transform="rotate(-90 75.6 679.6)">Differential Intensity (%)</text>
<text x="509.8" y="690.0" font-size="21" font-family="'Liberation Serif', 'Times New Roman', serif" font-weight="bold" fill="#000" text-anchor="middle" textLength="233.0" lengthAdjust="spacingAndGlyphs" transform="rotate(-90 509.8 690.0)">Cumulative  Intensity (%)</text>
<text x="124.5" y="578.8" font-size="20" font-family="'Liberation Serif', 'Times New Roman', serif" font-weight="bold" fill="#000" textLength="139.3" lengthAdjust="spacingAndGlyphs">Diameter = 543</text>
<text x="269.7" y="578.8" font-size="20" font-family="'Liberation Sans', Arial, sans-serif" font-weight="bold" fill="#000" textLength="66.7" lengthAdjust="spacingAndGlyphs">±43 nm</text>
<text x="130.4" y="624.1" font-size="22" font-family="'Liberation Sans', Arial, sans-serif" font-weight="bold" fill="#000" textLength="105.0" lengthAdjust="spacingAndGlyphs">PDI = 0.59</text>
<rect x="637" y="526.4" width="457.4000000000001" height="365.6" fill="url(#bg)"/>
<path d="M637,892 L637,526.4 L1092.4,526.4" fill="none" stroke="#c6c6c6" stroke-width="1.3"/>
<path d="M637,892 L697.6,892 M898,892 L1094.4,892" fill="none" stroke="#6e6e6e" stroke-width="2"/>
<line x1="1094.4" y1="528" x2="1094.4" y2="575" stroke="#6a6e76" stroke-width="1.8"/>
<line x1="1098.4" y1="528" x2="1098.4" y2="575" stroke="#9a9a9a" stroke-width="1.3" stroke-dasharray="2.5,2.5"/>
<line x1="1094.4" y1="810" x2="1094.4" y2="892" stroke="#6a6e76" stroke-width="1.8"/>
<line x1="1098.4" y1="810" x2="1098.4" y2="892" stroke="#9a9a9a" stroke-width="1.3" stroke-dasharray="2.5,2.5"/>
<path d="M740.2,554 L740.2,850.6 M832.7,554 L832.7,850.6 M928,554 L928,850.6 M1023.9,554 L1023.9,850.6 M683.3,626 L1048.8,626 M683.3,698.5 L1048.8,698.5 M683.3,770.5 L1048.8,770.5" stroke="#cbcbcb" stroke-width="1.8" fill="none"/>
<g fill="#3a5bc3" stroke="#2a47a6" stroke-width="0.8"><rect x="789.20" y="817.30" width="4.09" height="25.80"/><rect x="793.29" y="814.09" width="4.09" height="29.01"/><rect x="797.38" y="810.99" width="4.09" height="32.11"/><rect x="801.47" y="807.91" width="4.09" height="35.19"/><rect x="805.56" y="804.64" width="4.09" height="38.46"/><rect x="809.65" y="800.05" width="4.09" height="43.05"/><rect x="813.74" y="795.45" width="4.09" height="47.65"/><rect x="817.83" y="790.53" width="4.09" height="52.57"/><rect x="821.91" y="784.93" width="4.09" height="58.17"/><rect x="826.00" y="779.33" width="4.09" height="63.77"/><rect x="830.09" y="774.09" width="4.09" height="69.01"/><rect x="834.18" y="769.13" width="4.09" height="73.97"/><rect x="838.27" y="764.17" width="4.09" height="78.93"/><rect x="842.36" y="759.75" width="4.09" height="83.35"/><rect x="846.45" y="755.49" width="4.09" height="87.61"/><rect x="850.54" y="751.22" width="4.09" height="91.88"/><rect x="854.63" y="747.13" width="4.09" height="95.97"/><rect x="858.72" y="743.04" width="4.09" height="100.06"/><rect x="862.81" y="738.95" width="4.09" height="104.15"/><rect x="866.90" y="734.86" width="4.09" height="108.24"/><rect x="870.99" y="730.77" width="4.09" height="112.33"/><rect x="875.08" y="726.77" width="4.09" height="116.33"/><rect x="879.16" y="722.90" width="4.09" height="120.20"/><rect x="883.25" y="719.02" width="4.09" height="124.08"/><rect x="887.34" y="715.84" width="4.09" height="127.26"/><rect x="891.43" y="713.05" width="4.09" height="130.05"/><rect x="895.52" y="710.26" width="4.09" height="132.84"/><rect x="899.61" y="708.56" width="4.09" height="134.54"/><rect x="903.70" y="707.02" width="4.09" height="136.08"/><rect x="907.79" y="705.56" width="4.09" height="137.54"/><rect x="911.88" y="705.06" width="4.09" height="138.04"/><rect x="915.97" y="704.55" width="4.09" height="138.55"/><rect x="920.06" y="704.65" width="4.09" height="138.45"/><rect x="924.15" y="706.20" width="4.09" height="136.90"/><rect x="928.24" y="707.74" width="4.09" height="135.36"/><rect x="932.33" y="710.04" width="4.09" height="133.06"/><rect x="936.41" y="713.09" width="4.09" height="130.01"/><rect x="940.50" y="716.14" width="4.09" height="126.96"/><rect x="944.59" y="719.60" width="4.09" height="123.50"/><rect x="948.68" y="723.22" width="4.09" height="119.88"/><rect x="952.77" y="726.84" width="4.09" height="116.26"/><rect x="956.86" y="732.34" width="4.09" height="110.76"/><rect x="960.95" y="737.94" width="4.09" height="105.16"/><rect x="965.04" y="743.63" width="4.09" height="99.47"/><rect x="969.13" y="749.76" width="4.09" height="93.34"/><rect x="973.22" y="755.89" width="4.09" height="87.21"/><rect x="977.31" y="762.26" width="4.09" height="80.84"/><rect x="981.40" y="769.01" width="4.09" height="74.09"/><rect x="985.49" y="775.79" width="4.09" height="67.31"/><rect x="989.58" y="782.62" width="4.09" height="60.48"/><rect x="993.66" y="789.12" width="4.09" height="53.98"/><rect x="997.75" y="794.29" width="4.09" height="48.81"/><rect x="1001.84" y="801.88" width="4.09" height="41.23"/><rect x="1005.93" y="810.05" width="4.09" height="33.05"/><rect x="1010.02" y="816.28" width="4.09" height="26.82"/><rect x="1014.11" y="821.76" width="4.09" height="21.34"/></g>
<rect x="808.50" y="800.00" width="1.20" height="43.10" fill="#fff"/>
<rect x="820.00" y="790.00" width="1.20" height="53.10" fill="#fff"/>
<rect x="830.00" y="775.00" width="1.20" height="68.10" fill="#fff"/>
<rect x="997.00" y="785.00" width="1.20" height="58.10" fill="#fff"/>
<rect x="1007.00" y="800.00" width="1.20" height="43.10" fill="#fff"/>
<path d="M905.3,705.6 L905.8,704.5 L906.3,703.4 L906.8,702.3 L907.3,701.2 L907.9,700.1 L908.4,699.0 L908.9,697.8 L909.4,696.7 L909.9,695.6 L910.4,694.5 L910.9,693.4 L911.4,692.3 L911.9,691.2 L912.4,690.1 L913.0,689.1 L913.5,688.0 L914.0,687.0 L914.5,686.0 L915.0,685.0 L915.5,684.1 L916.0,683.1 L916.5,682.2 L917.0,681.3 L917.5,680.4 L918.0,679.6 L918.5,678.7 L919.0,677.9 L919.5,677.1 L920.0,676.2 L920.5,675.4 L921.0,674.6 L921.5,673.8 L922.0,673.0 L922.5,672.2 L923.0,671.4 L923.5,670.6 L924.0,669.8 L924.5,668.9 L925.0,668.1 L925.5,667.3 L926.0,666.4 L926.5,665.6 L927.0,664.7 L927.5,663.8 L928.0,662.9 L928.5,662.0 L929.0,661.1 L929.5,660.1 L930.0,659.1 L930.5,658.2 L931.0,657.2 L931.5,656.2 L932.0,655.1 L932.5,654.1 L933.0,653.1 L933.5,652.1 L934.0,651.0 L934.5,650.0 L935.0,649.0 L935.5,647.9 L936.0,646.9 L936.5,645.9 L937.0,644.9 L937.5,643.9 L938.0,643.0 L938.5,642.0 L939.0,641.1 L939.5,640.1 L940.0,639.2 L940.5,638.2 L941.0,637.3 L941.5,636.4 L942.0,635.5 L942.5,634.6 L943.0,633.7 L943.5,632.8 L944.0,631.9 L944.5,631.0 L945.0,630.1 L945.5,629.2 L946.0,628.3 L946.5,627.4 L947.0,626.6 L947.5,625.7 L948.0,624.9 L948.5,624.0 L949.0,623.1 L949.5,622.2 L950.0,621.4 L950.6,620.5 L951.1,619.6 L951.6,618.7 L952.1,617.9 L952.6,617.0 L953.1,616.1 L953.6,615.2 L954.2,614.4 L954.7,613.5 L955.2,612.7 L955.7,611.8 L956.2,611.0 L956.7,610.1 L957.2,609.3 L957.7,608.5 L958.3,607.6 L958.8,606.8 L959.3,606.0 L959.8,605.2 L960.3,604.5 L960.8,603.7 L961.3,602.9 L961.9,602.2 L962.4,601.4 L962.9,600.7 L963.4,600.0 L963.9,599.3 L964.4,598.6 L964.9,598.0 L965.4,597.3 L965.9,596.7 L966.5,596.0 L967.0,595.4 L967.5,594.8 L968.0,594.2 L968.5,593.6 L969.0,593.0 L969.5,592.4 L970.0,591.8 L970.5,591.2 L971.0,590.7 L971.5,590.1 L972.0,589.5 L972.6,589.0 L973.1,588.4 L973.6,587.9 L974.1,587.4 L974.6,586.8 L975.1,586.3 L975.6,585.8 L976.1,585.2 L976.6,584.7 L977.1,584.2 L977.6,583.6 L978.2,583.1 L978.7,582.6 L979.2,582.0 L979.7,581.5 L980.2,580.9 L980.7,580.4 L981.2,579.9 L981.7,579.3 L982.2,578.8 L982.7,578.2 L983.3,577.6 L983.8,577.1 L984.3,576.5 L984.8,576.0 L985.3,575.4 L985.8,574.9 L986.3,574.4 L986.8,573.8 L987.3,573.3 L987.9,572.8 L988.4,572.2 L988.9,571.7 L989.4,571.2 L989.9,570.7 L990.4,570.2 L990.9,569.7 L991.4,569.2 L991.9,568.7 L992.4,568.2 L993.0,567.8 L993.5,567.3 L994.0,566.9 L994.5,566.4 L995.0,566.0 L995.5,565.6 L996.0,565.2 L996.5,564.8 L997.0,564.4 L997.5,564.0 L998.0,563.6 L998.5,563.2 L999.0,562.8 L999.5,562.4 L1000.0,562.0 L1000.5,561.7 L1001.0,561.3 L1001.5,561.0 L1002.0,560.6 L1002.6,560.3 L1003.1,560.0 L1003.6,559.7 L1004.1,559.4 L1004.6,559.1 L1005.1,558.8 L1005.6,558.5 L1006.1,558.3 L1006.6,558.0 L1007.1,557.8 L1007.6,557.6 L1008.1,557.4 L1008.6,557.3 L1009.1,557.1 L1009.6,557.0 L1010.2,556.8 L1010.7,556.8 L1011.2,556.7 L1011.8,556.7 L1012.3,556.6 L1012.9,556.6 L1013.4,556.6 L1013.9,556.6 L1014.5,556.5 L1015.0,556.5" fill="none" stroke="#a83a58" stroke-width="1.2" stroke-linejoin="round"/>
<rect x="685.3" y="556" width="356.5" height="288.6" fill="none" stroke="#000" stroke-width="4.2"/>
<rect x="662.0" y="547.5" width="15.0" height="20" fill="#fff" opacity="0.85"/>
<text x="675.0" y="563.5" font-size="22" font-family="'Liberation Serif', 'Times New Roman', serif" font-weight="bold" fill="#000" text-anchor="end">5</text>
<rect x="665.0" y="832.0" width="15.0" height="20" fill="#fff" opacity="0.85"/>
<text x="678.0" y="848.0" font-size="22" font-family="'Liberation Serif', 'Times New Roman', serif" font-weight="bold" fill="#000" text-anchor="end">0</text>
<rect x="1048.4" y="547.3" width="27" height="18" fill="#fff"/>
<text x="1050.4" y="561.3" font-size="15" font-family="'Liberation Serif', 'Times New Roman', serif" font-weight="bold" fill="#4444a4" textLength="22.0" lengthAdjust="spacingAndGlyphs">100</text>
<text x="1054.5" y="633.8" font-size="14" font-family="'Liberation Serif', 'Times New Roman', serif" font-weight="bold" fill="#4848aa" textLength="14.0" lengthAdjust="spacingAndGlyphs">75</text>
<text x="1055.0" y="702.6" font-size="9" font-family="'Liberation Sans', Arial, sans-serif" font-weight="normal" fill="#5858a8">50</text>
<text x="1055.0" y="774.2" font-size="9" font-family="'Liberation Sans', Arial, sans-serif" font-weight="normal" fill="#5858a8">25</text>
<text x="1061.0" y="846.8" font-size="9" font-family="'Liberation Sans', Arial, sans-serif" font-weight="normal" fill="#5858a8">0</text>
<text x="681.3" y="874.0" font-size="27.5" font-family="'Liberation Serif', 'Times New Roman', serif" font-weight="bold" fill="#000" text-anchor="middle" textLength="13.5" lengthAdjust="spacingAndGlyphs">0</text>
<text x="730.3" y="869.7" font-size="27.5" font-family="'Liberation Serif', 'Times New Roman', serif" font-weight="bold" fill="#000" text-anchor="middle" textLength="27.0" lengthAdjust="spacingAndGlyphs">10</text>
<text x="825.6" y="869.7" font-size="27.5" font-family="'Liberation Serif', 'Times New Roman', serif" font-weight="bold" fill="#000" text-anchor="middle" textLength="40.5" lengthAdjust="spacingAndGlyphs">100</text>
<text x="926.6" y="874.0" font-size="27.5" font-family="'Liberation Serif', 'Times New Roman', serif" font-weight="bold" fill="#000" text-anchor="middle" textLength="54.0" lengthAdjust="spacingAndGlyphs">1000</text>
<text x="1022.6" y="857.2" font-size="10" font-family="'Liberation Sans', Arial, sans-serif" font-weight="normal" fill="#333" text-anchor="middle">100000.0</text>
<text x="791.4" y="891.0" font-size="28" font-family="'Liberation Serif', 'Times New Roman', serif" font-weight="bold" fill="#000" text-anchor="middle" textLength="175.0" lengthAdjust="spacingAndGlyphs">Diameter (nm)</text>
<text x="658.0" y="695.2" font-size="21" font-family="'Liberation Serif', 'Times New Roman', serif" font-weight="bold" fill="#000" text-anchor="middle" textLength="229.0" lengthAdjust="spacingAndGlyphs" transform="rotate(-90 658.0 695.2)">Differential Intensity (%)</text>
<text x="1089.7" y="690.0" font-size="21" font-family="'Liberation Serif', 'Times New Roman', serif" font-weight="bold" fill="#000" text-anchor="middle" textLength="231.0" lengthAdjust="spacingAndGlyphs" transform="rotate(-90 1089.7 690.0)">Cumulative  Intensity (%)</text>
<text x="703.2" y="592.4" font-size="22" font-family="'Liberation Sans', Arial, sans-serif" font-weight="bold" fill="#000" textLength="249.0" lengthAdjust="spacingAndGlyphs">Diameter = 854 ± 60 nm</text>
<text x="703.2" y="644.5" font-size="22" font-family="'Liberation Sans', Arial, sans-serif" font-weight="bold" fill="#000" textLength="113.0" lengthAdjust="spacingAndGlyphs">PDI= 1.178</text>
<rect x="1182.8" y="526.4" width="457.5" height="365.6" fill="url(#bg)"/>
<path d="M1182.8,892 L1182.8,526.4 L1638.3,526.4" fill="none" stroke="#c6c6c6" stroke-width="1.3"/>
<path d="M1182.8,892 L1286.7,892 M1487.2,892 L1640.3,892" fill="none" stroke="#6e6e6e" stroke-width="2"/>
<line x1="1640.3" y1="528" x2="1640.3" y2="580" stroke="#6a6e76" stroke-width="1.8"/>
<line x1="1644.3" y1="528" x2="1644.3" y2="580" stroke="#9a9a9a" stroke-width="1.3" stroke-dasharray="2.5,2.5"/>
<line x1="1640.3" y1="818" x2="1640.3" y2="892" stroke="#6a6e76" stroke-width="1.8"/>
<line x1="1644.3" y1="818" x2="1644.3" y2="892" stroke="#9a9a9a" stroke-width="1.3" stroke-dasharray="2.5,2.5"/>
<path d="M1327.9,552.1 L1327.9,846.4 M1424.1,552.1 L1424.1,846.4 M1520,552.1 L1520,846.4 M1231.8,626 L1595.8,626 M1231.8,698.5 L1595.8,698.5 M1231.8,770.5 L1595.8,770.5" stroke="#cbcbcb" stroke-width="1.8" fill="none"/>
<g fill="#3a5bc3" stroke="#2a47a6" stroke-width="0.8"><rect x="1295.20" y="822.66" width="4.19" height="16.24"/><rect x="1299.39" y="820.57" width="4.19" height="18.33"/><rect x="1303.59" y="818.49" width="4.19" height="20.41"/><rect x="1307.78" y="816.40" width="4.19" height="22.50"/><rect x="1311.98" y="814.11" width="4.19" height="24.79"/><rect x="1316.17" y="811.52" width="4.19" height="27.38"/><rect x="1320.36" y="808.92" width="4.19" height="29.98"/><rect x="1324.56" y="806.33" width="4.19" height="32.57"/><rect x="1328.75" y="803.71" width="4.19" height="35.19"/><rect x="1332.94" y="801.04" width="4.19" height="37.86"/><rect x="1337.14" y="798.37" width="4.19" height="40.53"/><rect x="1341.33" y="795.69" width="4.19" height="43.21"/><rect x="1345.53" y="793.09" width="4.19" height="45.81"/><rect x="1349.72" y="790.66" width="4.19" height="48.24"/><rect x="1353.91" y="788.24" width="4.19" height="50.66"/><rect x="1358.11" y="785.81" width="4.19" height="53.09"/><rect x="1362.30" y="783.55" width="4.19" height="55.35"/><rect x="1366.50" y="781.93" width="4.19" height="56.97"/><rect x="1370.69" y="780.32" width="4.19" height="58.58"/><rect x="1374.88" y="778.70" width="4.19" height="60.20"/><rect x="1379.08" y="777.04" width="4.19" height="61.86"/><rect x="1383.27" y="775.17" width="4.19" height="63.73"/><rect x="1387.46" y="773.29" width="4.19" height="65.61"/><rect x="1391.66" y="771.42" width="4.19" height="67.48"/><rect x="1395.85" y="769.52" width="4.19" height="69.38"/><rect x="1400.05" y="767.42" width="4.19" height="71.48"/><rect x="1404.24" y="765.31" width="4.19" height="73.59"/><rect x="1408.43" y="763.20" width="4.19" height="75.70"/><rect x="1412.63" y="761.08" width="4.19" height="77.82"/><rect x="1416.82" y="758.29" width="4.19" height="80.61"/><rect x="1421.02" y="755.49" width="4.19" height="83.41"/><rect x="1425.21" y="752.70" width="4.19" height="86.20"/><rect x="1429.40" y="749.90" width="4.19" height="89.00"/><rect x="1433.60" y="747.11" width="4.19" height="91.79"/><rect x="1437.79" y="744.32" width="4.19" height="94.58"/><rect x="1441.98" y="741.54" width="4.19" height="97.36"/><rect x="1446.18" y="738.75" width="4.19" height="100.15"/><rect x="1450.37" y="735.95" width="4.19" height="102.95"/><rect x="1454.57" y="733.16" width="4.19" height="105.74"/><rect x="1458.76" y="730.36" width="4.19" height="108.54"/><rect x="1462.95" y="727.57" width="4.19" height="111.33"/><rect x="1467.15" y="724.74" width="4.19" height="114.16"/><rect x="1471.34" y="721.91" width="4.19" height="116.99"/><rect x="1475.54" y="719.23" width="4.19" height="119.67"/><rect x="1479.73" y="718.39" width="4.19" height="120.51"/><rect x="1483.92" y="717.65" width="4.19" height="121.25"/><rect x="1488.12" y="718.68" width="4.19" height="120.22"/><rect x="1492.31" y="719.71" width="4.19" height="119.19"/><rect x="1496.50" y="721.47" width="4.19" height="117.43"/><rect x="1500.70" y="724.66" width="4.19" height="114.24"/><rect x="1504.89" y="727.85" width="4.19" height="111.05"/><rect x="1509.09" y="731.04" width="4.19" height="107.86"/><rect x="1513.28" y="735.98" width="4.19" height="102.92"/><rect x="1517.47" y="741.02" width="4.19" height="97.88"/><rect x="1521.67" y="746.39" width="4.19" height="92.51"/><rect x="1525.86" y="752.86" width="4.19" height="86.04"/><rect x="1530.06" y="759.34" width="4.19" height="79.56"/><rect x="1534.25" y="767.17" width="4.19" height="71.73"/><rect x="1538.44" y="776.30" width="4.19" height="62.60"/><rect x="1542.64" y="785.04" width="4.19" height="53.86"/><rect x="1546.83" y="793.38" width="4.19" height="45.52"/><rect x="1551.02" y="801.14" width="4.19" height="37.76"/><rect x="1555.22" y="808.15" width="4.19" height="30.75"/><rect x="1559.41" y="814.56" width="4.19" height="24.34"/><rect x="1563.61" y="820.12" width="4.19" height="18.78"/></g>
<rect x="1354.50" y="785.00" width="1.20" height="53.90" fill="#fff"/>
<rect x="1365.50" y="780.00" width="1.20" height="58.90" fill="#fff"/>
<rect x="1376.50" y="775.00" width="1.20" height="63.90" fill="#fff"/>
<rect x="1542.50" y="780.00" width="1.20" height="58.90" fill="#fff"/>
<rect x="1553.00" y="800.00" width="1.20" height="38.90" fill="#fff"/>
<path d="M1403.3,768.2 L1403.8,767.7 L1404.3,767.2 L1404.8,766.7 L1405.3,766.2 L1405.8,765.7 L1406.3,765.3 L1406.8,764.8 L1407.3,764.3 L1407.8,763.8 L1408.3,763.3 L1408.8,762.8 L1409.3,762.3 L1409.8,761.9 L1410.4,761.4 L1410.9,760.9 L1411.4,760.4 L1411.9,759.9 L1412.4,759.5 L1412.9,759.0 L1413.4,758.5 L1413.9,758.0 L1414.4,757.5 L1414.9,757.0 L1415.4,756.6 L1415.9,756.1 L1416.4,755.6 L1416.9,755.1 L1417.4,754.6 L1417.9,754.1 L1418.4,753.7 L1418.9,753.2 L1419.4,752.7 L1419.9,752.2 L1420.4,751.7 L1420.9,751.2 L1421.4,750.7 L1421.9,750.2 L1422.4,749.7 L1422.9,749.2 L1423.5,748.7 L1424.0,748.2 L1424.5,747.7 L1425.0,747.2 L1425.5,746.7 L1426.0,746.2 L1426.5,745.7 L1427.0,745.1 L1427.5,744.6 L1428.0,744.1 L1428.5,743.6 L1429.0,743.1 L1429.5,742.5 L1430.0,742.0 L1430.5,741.5 L1431.0,740.9 L1431.5,740.4 L1432.0,739.9 L1432.5,739.4 L1433.0,738.9 L1433.5,738.4 L1434.0,737.9 L1434.5,737.4 L1435.0,736.8 L1435.5,736.3 L1436.0,735.8 L1436.5,735.3 L1437.0,734.8 L1437.5,734.3 L1438.0,733.8 L1438.5,733.3 L1439.0,732.8 L1439.5,732.3 L1440.0,731.7 L1440.5,731.2 L1441.0,730.7 L1441.5,730.2 L1442.0,729.6 L1442.5,729.1 L1443.0,728.6 L1443.5,728.0 L1444.0,727.5 L1444.5,726.9 L1445.0,726.4 L1445.5,725.8 L1446.0,725.2 L1446.5,724.6 L1447.0,724.1 L1447.5,723.5 L1448.0,722.9 L1448.5,722.3 L1449.0,721.6 L1449.5,721.0 L1450.0,720.4 L1450.5,719.7 L1451.0,719.1 L1451.5,718.4 L1452.0,717.7 L1452.5,717.1 L1453.0,716.4 L1453.5,715.7 L1454.0,714.9 L1454.5,714.2 L1455.0,713.5 L1455.5,712.7 L1456.0,711.9 L1456.5,711.1 L1457.0,710.3 L1457.5,709.5 L1458.0,708.7 L1458.5,707.9 L1459.0,707.0 L1459.5,706.1 L1460.0,705.3 L1460.5,704.4 L1461.0,703.5 L1461.5,702.6 L1462.0,701.7 L1462.5,700.8 L1463.0,699.9 L1463.5,698.9 L1464.0,698.0 L1464.5,697.1 L1465.0,696.1 L1465.5,695.2 L1466.0,694.2 L1466.5,693.3 L1467.0,692.3 L1467.5,691.4 L1468.0,690.4 L1468.5,689.4 L1469.0,688.5 L1469.5,687.5 L1470.0,686.5 L1470.5,685.6 L1471.0,684.6 L1471.5,683.6 L1472.0,682.7 L1472.5,681.7 L1473.0,680.8 L1473.5,679.8 L1474.0,678.9 L1474.5,677.9 L1475.0,677.0 L1475.5,676.1 L1476.0,675.1 L1476.5,674.2 L1477.0,673.2 L1477.5,672.3 L1478.0,671.3 L1478.5,670.4 L1479.0,669.4 L1479.5,668.4 L1480.0,667.5 L1480.5,666.5 L1481.1,665.5 L1481.6,664.6 L1482.1,663.6 L1482.6,662.6 L1483.1,661.7 L1483.6,660.7 L1484.1,659.7 L1484.6,658.7 L1485.1,657.8 L1485.6,656.8 L1486.1,655.8 L1486.6,654.8 L1487.1,653.9 L1487.6,652.9 L1488.1,651.9 L1488.6,650.9 L1489.1,650.0 L1489.6,649.0 L1490.1,648.0 L1490.6,647.0 L1491.1,646.1 L1491.7,645.1 L1492.2,644.1 L1492.7,643.2 L1493.2,642.2 L1493.7,641.2 L1494.2,640.3 L1494.7,639.3 L1495.2,638.3 L1495.7,637.4 L1496.2,636.4 L1496.7,635.5 L1497.2,634.5 L1497.7,633.5 L1498.2,632.6 L1498.7,631.6 L1499.2,630.6 L1499.7,629.6 L1500.3,628.6 L1500.8,627.6 L1501.3,626.6 L1501.8,625.6 L1502.3,624.6 L1502.8,623.6 L1503.3,622.6 L1503.8,621.6 L1504.3,620.6 L1504.8,619.6 L1505.4,618.6 L1505.9,617.6 L1506.4,616.6 L1506.9,615.6 L1507.4,614.7 L1507.9,613.7 L1508.4,612.8 L1508.9,611.9 L1509.4,611.0 L1509.9,610.1 L1510.5,609.2 L1511.0,608.3 L1511.5,607.4 L1512.0,606.6 L1512.5,605.8 L1513.0,605.0 L1513.5,604.2 L1514.0,603.5 L1514.5,602.8 L1515.0,602.1 L1515.5,601.4 L1516.0,600.7 L1516.5,600.0 L1517.0,599.4 L1517.5,598.8 L1518.0,598.1 L1518.5,597.5 L1519.0,596.9 L1519.5,596.3 L1520.0,595.7 L1520.5,595.1 L1521.0,594.6 L1521.5,594.0 L1522.0,593.4 L1522.5,592.9 L1523.0,592.3 L1523.5,591.8 L1524.0,591.2 L1524.5,590.7 L1525.0,590.1 L1525.5,589.5 L1526.0,589.0 L1526.5,588.4 L1527.0,587.8 L1527.5,587.3 L1528.0,586.7 L1528.5,586.1 L1529.0,585.5 L1529.5,584.9 L1530.0,584.3 L1530.5,583.7 L1531.0,583.1 L1531.5,582.5 L1532.0,581.9 L1532.5,581.2 L1533.0,580.6 L1533.5,580.0 L1534.0,579.4 L1534.5,578.8 L1535.0,578.2 L1535.5,577.6 L1536.0,576.9 L1536.5,576.3 L1537.0,575.7 L1537.5,575.1 L1538.0,574.5 L1538.5,574.0 L1539.0,573.4 L1539.5,572.8 L1540.0,572.2 L1540.5,571.7 L1541.0,571.1 L1541.5,570.6 L1542.0,570.0 L1542.5,569.5 L1543.0,569.0 L1543.5,568.5 L1544.0,568.0 L1544.5,567.5 L1545.0,567.0 L1545.5,566.5 L1546.0,566.1 L1546.5,565.6 L1547.0,565.1 L1547.6,564.7 L1548.1,564.2 L1548.6,563.8 L1549.1,563.3 L1549.6,562.9 L1550.1,562.5 L1550.6,562.1 L1551.1,561.7 L1551.6,561.3 L1552.1,560.9 L1552.7,560.5 L1553.2,560.2 L1553.7,559.8 L1554.2,559.4 L1554.7,559.1 L1555.2,558.8 L1555.7,558.5 L1556.2,558.1 L1556.7,557.9 L1557.2,557.6 L1557.8,557.3 L1558.3,557.0 L1558.8,556.8 L1559.3,556.5 L1559.8,556.3 L1560.3,556.1 L1560.8,556.0 L1561.4,555.8 L1561.9,555.8 L1562.4,555.7 L1562.9,555.7 L1563.4,555.6 L1564.0,555.6 L1564.5,555.6 L1565.0,555.5" fill="none" stroke="#a83a58" stroke-width="1.2" stroke-linejoin="round"/>
<rect x="1233.8" y="554.1" width="355.0" height="286.29999999999995" fill="none" stroke="#000" stroke-width="4.2"/>
<rect x="1211.0" y="549.0" width="15.0" height="20" fill="#fff" opacity="0.85"/>
<text x="1224.0" y="565.0" font-size="22" font-family="'Liberation Serif', 'Times New Roman', serif" font-weight="bold" fill="#000" text-anchor="end">5</text>
<rect x="1212.0" y="831.0" width="15.0" height="20" fill="#fff" opacity="0.85"/>
<text x="1225.0" y="847.0" font-size="22" font-family="'Liberation Serif', 'Times New Roman', serif" font-weight="bold" fill="#000" text-anchor="end">0</text>
<rect x="1594.8" y="544.4" width="27" height="18" fill="#fff"/>
<text x="1596.8" y="558.4" font-size="15" font-family="'Liberation Serif', 'Times New Roman', serif" font-weight="bold" fill="#4444a4" textLength="22.0" lengthAdjust="spacingAndGlyphs">100</text>
<text x="1600.5" y="636.1" font-size="14" font-family="'Liberation Serif', 'Times New Roman', serif" font-weight="bold" fill="#4848aa" textLength="14.0" lengthAdjust="spacingAndGlyphs">75</text>
<text x="1601.0" y="702.6" font-size="9" font-family="'Liberation Sans', Arial, sans-serif" font-weight="normal" fill="#5858a8">50</text>
<text x="1601.0" y="774.2" font-size="9" font-family="'Liberation Sans', Arial, sans-serif" font-weight="normal" fill="#5858a8">25</text>
<text x="1607.0" y="846.8" font-size="9" font-family="'Liberation Sans', Arial, sans-serif" font-weight="normal" fill="#5858a8">0</text>
<text x="1234.0" y="872.5" font-size="27.5" font-family="'Liberation Serif', 'Times New Roman', serif" font-weight="bold" fill="#000" text-anchor="middle" textLength="13.5" lengthAdjust="spacingAndGlyphs">0</text>
<text x="1327.9" y="868.3" font-size="27.5" font-family="'Liberation Serif', 'Times New Roman', serif" font-weight="bold" fill="#000" text-anchor="middle" textLength="40.5" lengthAdjust="spacingAndGlyphs">100</text>
<text x="1421.8" y="869.7" font-size="27.5" font-family="'Liberation Serif', 'Times New Roman', serif" font-weight="bold" fill="#000" text-anchor="middle" textLength="54.0" lengthAdjust="spacingAndGlyphs">1000</text>
<text x="1522.8" y="868.3" font-size="27.5" font-family="'Liberation Serif', 'Times New Roman', serif" font-weight="bold" fill="#000" text-anchor="middle" textLength="67.5" lengthAdjust="spacingAndGlyphs">10000</text>
<text x="1381.1" y="893.0" font-size="28" font-family="'Liberation Serif', 'Times New Roman', serif" font-weight="bold" fill="#000" text-anchor="middle" textLength="175.0" lengthAdjust="spacingAndGlyphs">Diameter (nm)</text>
<text x="1209.6" y="690.7" font-size="21" font-family="'Liberation Serif', 'Times New Roman', serif" font-weight="bold" fill="#000" text-anchor="middle" textLength="229.0" lengthAdjust="spacingAndGlyphs" transform="rotate(-90 1209.6 690.7)">Differential Intensity (%)</text>
<text x="1635.5" y="698.5" font-size="21" font-family="'Liberation Serif', 'Times New Roman', serif" font-weight="bold" fill="#000" text-anchor="middle" textLength="231.0" lengthAdjust="spacingAndGlyphs" transform="rotate(-90 1635.5 698.5)">Cumulative  Intensity (%)</text>
<text x="1263.3" y="593.2" font-size="22" font-family="'Liberation Sans', Arial, sans-serif" font-weight="bold" fill="#000" textLength="289.0" lengthAdjust="spacingAndGlyphs">Diameter = 345 nm ± 20 nm</text>
<text x="1263.3" y="646.5" font-size="22" font-family="'Liberation Sans', Arial, sans-serif" font-weight="bold" fill="#000" textLength="113.0" lengthAdjust="spacingAndGlyphs">PDI= 0.784</text>
<rect x="38.9" y="981.9" width="457.40000000000003" height="366.1" fill="url(#bg)"/>
<path d="M38.9,1348 L38.9,981.9 L494.3,981.9" fill="none" stroke="#c6c6c6" stroke-width="1.3"/>
<path d="M38.9,1348 L115.4,1348 M314,1348 L496.3,1348" fill="none" stroke="#6e6e6e" stroke-width="2"/>
<line x1="496.3" y1="984" x2="496.3" y2="1040" stroke="#6a6e76" stroke-width="1.8"/>
<line x1="500.3" y1="984" x2="500.3" y2="1040" stroke="#9a9a9a" stroke-width="1.3" stroke-dasharray="2.5,2.5"/>
<line x1="496.3" y1="1277" x2="496.3" y2="1348" stroke="#6a6e76" stroke-width="1.8"/>
<line x1="500.3" y1="1277" x2="500.3" y2="1348" stroke="#9a9a9a" stroke-width="1.3" stroke-dasharray="2.5,2.5"/>
<path d="M131.7,1007.5 L131.7,1302.1 M242.2,1007.5 L242.2,1302.1 M347.5,1007.5 L347.5,1302.1 M389.5,1007.5 L389.5,1302.1 M86.1,1081.1 L447.9,1081.1 M86.1,1153.8 L447.9,1153.8 M86.1,1224.9 L447.9,1224.9" stroke="#cbcbcb" stroke-width="1.8" fill="none"/>
<g fill="#3a5bc3" stroke="#2a47a6" stroke-width="0.8"><rect x="226.00" y="1270.44" width="4.38" height="24.16"/><rect x="230.38" y="1251.73" width="4.38" height="42.87"/><rect x="234.76" y="1229.70" width="4.38" height="64.90"/><rect x="239.14" y="1206.11" width="4.38" height="88.49"/><rect x="243.52" y="1180.92" width="4.38" height="113.68"/><rect x="247.90" y="1155.51" width="4.38" height="139.09"/><rect x="252.28" y="1130.83" width="4.38" height="163.77"/><rect x="256.66" y="1105.10" width="4.38" height="189.50"/><rect x="261.04" y="1077.12" width="4.38" height="217.48"/><rect x="265.42" y="1057.20" width="4.38" height="237.40"/><rect x="269.80" y="1047.10" width="4.38" height="247.50"/><rect x="274.18" y="1042.17" width="4.38" height="252.43"/><rect x="278.57" y="1046.99" width="4.38" height="247.61"/><rect x="282.95" y="1054.75" width="4.38" height="239.85"/><rect x="287.33" y="1073.10" width="4.38" height="221.50"/><rect x="291.71" y="1093.62" width="4.38" height="200.98"/><rect x="296.09" y="1110.36" width="4.38" height="184.24"/><rect x="300.47" y="1127.69" width="4.38" height="166.91"/><rect x="304.85" y="1145.41" width="4.38" height="149.19"/><rect x="309.23" y="1166.16" width="4.38" height="128.44"/><rect x="313.61" y="1185.97" width="4.38" height="108.63"/><rect x="317.99" y="1209.16" width="4.38" height="85.44"/><rect x="322.37" y="1228.78" width="4.38" height="65.82"/><rect x="326.75" y="1246.22" width="4.38" height="48.38"/><rect x="331.13" y="1259.18" width="4.38" height="35.42"/><rect x="335.51" y="1267.90" width="4.38" height="26.70"/><rect x="339.89" y="1272.28" width="4.38" height="22.32"/><rect x="344.27" y="1273.75" width="4.38" height="20.85"/><rect x="348.65" y="1272.35" width="4.38" height="22.25"/><rect x="353.03" y="1268.15" width="4.38" height="26.45"/><rect x="357.41" y="1262.47" width="4.38" height="32.13"/><rect x="361.79" y="1255.87" width="4.38" height="38.73"/><rect x="366.17" y="1249.26" width="4.38" height="45.34"/><rect x="370.55" y="1243.65" width="4.38" height="50.95"/><rect x="374.93" y="1239.18" width="4.38" height="55.42"/><rect x="379.32" y="1236.04" width="4.38" height="58.56"/><rect x="383.70" y="1235.15" width="4.38" height="59.45"/><rect x="388.08" y="1234.25" width="4.38" height="60.35"/><rect x="392.46" y="1234.67" width="4.38" height="59.93"/><rect x="396.84" y="1236.72" width="4.38" height="57.88"/><rect x="401.22" y="1240.37" width="4.38" height="54.23"/><rect x="405.60" y="1245.45" width="4.38" height="49.15"/><rect x="409.98" y="1251.42" width="4.38" height="43.18"/><rect x="414.36" y="1258.02" width="4.38" height="36.58"/><rect x="418.74" y="1264.52" width="4.38" height="30.08"/><rect x="423.12" y="1270.74" width="4.38" height="23.86"/></g>
<rect x="230.50" y="1260.00" width="1.20" height="34.60" fill="#fff"/>
<rect x="398.30" y="1236.00" width="1.30" height="58.60" fill="#fff"/>
<rect x="404.80" y="1240.00" width="1.30" height="54.60" fill="#fff"/>
<rect x="409.30" y="1246.00" width="1.50" height="48.60" fill="#fff"/>
<path d="M297.7,1113.7 L298.2,1112.5 L298.7,1111.3 L299.2,1110.0 L299.7,1108.7 L300.3,1107.5 L300.8,1106.2 L301.3,1104.9 L301.8,1103.6 L302.3,1102.4 L302.8,1101.1 L303.3,1099.9 L303.8,1098.7 L304.4,1097.6 L304.9,1096.4 L305.4,1095.4 L305.9,1094.4 L306.4,1093.4 L306.9,1092.5 L307.4,1091.6 L307.9,1090.8 L308.5,1090.0 L309.0,1089.2 L309.5,1088.5 L310.0,1087.8 L310.5,1087.1 L311.0,1086.4 L311.5,1085.8 L312.1,1085.2 L312.6,1084.6 L313.1,1084.0 L313.6,1083.4 L314.1,1082.8 L314.6,1082.3 L315.2,1081.7 L315.7,1081.2 L316.2,1080.6 L316.7,1080.1 L317.2,1079.6 L317.7,1079.0 L318.2,1078.5 L318.7,1078.0 L319.3,1077.5 L319.8,1077.0 L320.3,1076.6 L320.8,1076.1 L321.3,1075.6 L321.8,1075.2 L322.3,1074.8 L322.8,1074.3 L323.4,1073.9 L323.9,1073.5 L324.4,1073.1 L324.9,1072.7 L325.4,1072.3 L325.9,1071.9 L326.4,1071.5 L326.9,1071.2 L327.4,1070.8 L328.0,1070.5 L328.5,1070.1 L329.0,1069.8 L329.5,1069.4 L330.0,1069.1 L330.5,1068.8 L331.0,1068.5 L331.5,1068.2 L332.0,1067.9 L332.5,1067.6 L333.0,1067.3 L333.5,1067.0 L334.0,1066.8 L334.6,1066.5 L335.1,1066.3 L335.6,1066.0 L336.1,1065.8 L336.6,1065.5 L337.1,1065.3 L337.6,1065.1 L338.1,1064.9 L338.6,1064.6 L339.1,1064.4 L339.6,1064.2 L340.1,1064.0 L340.6,1063.8 L341.1,1063.6 L341.6,1063.4 L342.1,1063.2 L342.6,1063.0 L343.1,1062.8 L343.7,1062.6 L344.2,1062.4 L344.7,1062.2 L345.2,1062.0 L345.7,1061.8 L346.2,1061.6 L346.7,1061.4 L347.2,1061.2 L347.7,1061.0 L348.2,1060.8 L348.7,1060.6 L349.2,1060.4 L349.7,1060.2 L350.2,1060.1 L350.7,1059.9 L351.2,1059.7 L351.8,1059.6 L352.3,1059.4 L352.8,1059.3 L353.3,1059.1 L353.8,1059.0 L354.3,1058.8 L354.8,1058.7 L355.3,1058.5 L355.8,1058.3 L356.3,1058.2 L356.8,1058.0 L357.3,1057.9 L357.8,1057.7 L358.3,1057.5 L358.9,1057.3 L359.4,1057.1 L359.9,1056.9 L360.4,1056.7 L360.9,1056.5 L361.4,1056.3 L361.9,1056.0 L362.4,1055.8 L362.9,1055.5 L363.4,1055.3 L363.9,1055.0 L364.4,1054.8 L365.0,1054.5 L365.5,1054.2 L366.0,1053.9 L366.5,1053.7 L367.0,1053.4 L367.5,1053.1 L368.0,1052.8 L368.5,1052.5 L369.0,1052.2 L369.5,1051.9 L370.1,1051.5 L370.6,1051.2 L371.1,1050.9 L371.6,1050.5 L372.1,1050.2 L372.6,1049.8 L373.1,1049.5 L373.6,1049.1 L374.1,1048.7 L374.6,1048.3 L375.2,1047.9 L375.7,1047.5 L376.2,1047.1 L376.7,1046.6 L377.2,1046.2 L377.7,1045.7 L378.2,1045.3 L378.7,1044.8 L379.2,1044.3 L379.7,1043.8 L380.2,1043.2 L380.7,1042.7 L381.3,1042.1 L381.8,1041.6 L382.3,1041.0 L382.8,1040.4 L383.3,1039.8 L383.8,1039.2 L384.3,1038.6 L384.8,1038.0 L385.3,1037.4 L385.8,1036.8 L386.3,1036.2 L386.8,1035.6 L387.3,1035.0 L387.8,1034.5 L388.4,1033.9 L388.9,1033.3 L389.4,1032.7 L389.9,1032.1 L390.4,1031.6 L390.9,1031.1 L391.4,1030.5 L391.9,1030.0 L392.4,1029.5 L392.9,1029.0 L393.4,1028.5 L393.9,1028.0 L394.4,1027.5 L394.9,1026.9 L395.4,1026.4 L395.9,1025.9 L396.4,1025.4 L396.9,1024.9 L397.4,1024.4 L397.9,1024.0 L398.4,1023.5 L399.0,1023.0 L399.5,1022.5 L400.0,1022.1 L400.5,1021.6 L401.0,1021.2 L401.5,1020.7 L402.0,1020.3 L402.5,1019.9 L403.0,1019.5 L403.5,1019.1 L404.0,1018.7 L404.5,1018.4 L405.0,1018.0 L405.5,1017.7 L406.0,1017.3 L406.5,1017.0 L407.0,1016.7 L407.5,1016.3 L408.0,1016.0 L408.5,1015.7 L409.0,1015.4 L409.6,1015.1 L410.1,1014.8 L410.6,1014.6 L411.1,1014.3 L411.6,1014.0 L412.1,1013.8 L412.6,1013.5 L413.1,1013.3 L413.6,1013.0 L414.1,1012.8 L414.6,1012.6 L415.1,1012.4 L415.6,1012.2 L416.1,1012.0 L416.6,1011.8 L417.1,1011.6 L417.6,1011.4 L418.2,1011.2 L418.7,1011.0 L419.2,1010.9 L419.7,1010.7 L420.2,1010.5 L420.7,1010.4 L421.2,1010.3 L421.7,1010.1 L422.2,1010.0 L422.7,1009.9 L423.3,1009.8 L423.8,1009.7 L424.3,1009.7 L424.8,1009.6 L425.4,1009.6 L425.9,1009.6 L426.4,1009.6 L426.9,1009.6 L427.5,1009.5 L428.0,1009.5" fill="none" stroke="#a83a58" stroke-width="1.2" stroke-linejoin="round"/>
<rect x="88.1" y="1009.5" width="352.79999999999995" height="286.5999999999999" fill="none" stroke="#000" stroke-width="4.2"/>
<rect x="63.0" y="1000.0" width="15.0" height="20" fill="#fff" opacity="0.85"/>
<text x="76.0" y="1016.0" font-size="22" font-family="'Liberation Serif', 'Times New Roman', serif" font-weight="bold" fill="#000" text-anchor="end">5</text>
<rect x="63.0" y="1292.0" width="15.0" height="20" fill="#fff" opacity="0.85"/>
<text x="76.0" y="1308.0" font-size="22" font-family="'Liberation Serif', 'Times New Roman', serif" font-weight="bold" fill="#000" text-anchor="end">0</text>
<rect x="451.3" y="1002.5" width="27" height="18" fill="#fff"/>
<text x="453.3" y="1016.5" font-size="15" font-family="'Liberation Serif', 'Times New Roman', serif" font-weight="bold" fill="#4444a4" textLength="22.0" lengthAdjust="spacingAndGlyphs">100</text>
<text x="457.5" y="1090.6" font-size="14" font-family="'Liberation Serif', 'Times New Roman', serif" font-weight="bold" fill="#4848aa" textLength="14.0" lengthAdjust="spacingAndGlyphs">75</text>
<text x="458.0" y="1157.5" font-size="9" font-family="'Liberation Sans', Arial, sans-serif" font-weight="normal" fill="#5858a8">50</text>
<text x="458.0" y="1228.7" font-size="9" font-family="'Liberation Sans', Arial, sans-serif" font-weight="normal" fill="#5858a8">25</text>
<text x="464.0" y="1302.2" font-size="9" font-family="'Liberation Sans', Arial, sans-serif" font-weight="normal" fill="#5858a8">0</text>
<text x="85.8" y="1328.7" font-size="27.5" font-family="'Liberation Serif', 'Times New Roman', serif" font-weight="bold" fill="#000" text-anchor="middle" textLength="13.5" lengthAdjust="spacingAndGlyphs">0</text>
<text x="126.4" y="1327.3" font-size="27.5" font-family="'Liberation Serif', 'Times New Roman', serif" font-weight="bold" fill="#000" text-anchor="middle" textLength="27.0" lengthAdjust="spacingAndGlyphs">10</text>
<text x="228.0" y="1327.3" font-size="27.5" font-family="'Liberation Serif', 'Times New Roman', serif" font-weight="bold" fill="#000" text-anchor="middle" textLength="40.5" lengthAdjust="spacingAndGlyphs">100</text>
<text x="341.5" y="1328.7" font-size="27.5" font-family="'Liberation Serif', 'Times New Roman', serif" font-weight="bold" fill="#000" text-anchor="middle" textLength="54.0" lengthAdjust="spacingAndGlyphs">1000</text>
<text x="208.8" y="1350.5" font-size="28" font-family="'Liberation Serif', 'Times New Roman', serif" font-weight="bold" fill="#000" text-anchor="middle" textLength="175.0" lengthAdjust="spacingAndGlyphs">Diameter (nm)</text>
<text x="62.1" y="1140.4" font-size="21" font-family="'Liberation Serif', 'Times New Roman', serif" font-weight="bold" fill="#000" text-anchor="middle" textLength="228.0" lengthAdjust="spacingAndGlyphs" transform="rotate(-90 62.1 1140.4)">Differential Intensity (%)</text>
<text x="491.9" y="1159.0" font-size="21" font-family="'Liberation Serif', 'Times New Roman', serif" font-weight="bold" fill="#000" text-anchor="middle" textLength="233.0" lengthAdjust="spacingAndGlyphs" transform="rotate(-90 491.9 1159.0)">Cumulative  Intensity (%)</text>
<text x="99.1" y="1044.1" font-size="22" font-family="'Liberation Sans', Arial, sans-serif" font-weight="bold" fill="#000" textLength="252.0" lengthAdjust="spacingAndGlyphs">Diameter= 298 ±  40 nm</text>
<text x="99.1" y="1096.9" font-size="22" font-family="'Liberation Sans', Arial, sans-serif" font-weight="bold" fill="#000" textLength="119.0" lengthAdjust="spacingAndGlyphs">PDI = 0.536</text>
<rect x="639.8" y="983.5" width="457.60000000000014" height="365.70000000000005" fill="url(#bg)"/>
<path d="M639.8,1349.2 L639.8,983.5 L1095.4,983.5" fill="none" stroke="#c6c6c6" stroke-width="1.3"/>
<path d="M639.8,1349.2 L707.5,1349.2 M908.1,1349.2 L1097.4,1349.2" fill="none" stroke="#6e6e6e" stroke-width="2"/>
<line x1="1097.4" y1="985" x2="1097.4" y2="1052" stroke="#6a6e76" stroke-width="1.8"/>
<line x1="1101.4" y1="985" x2="1101.4" y2="1052" stroke="#9a9a9a" stroke-width="1.3" stroke-dasharray="2.5,2.5"/>
<line x1="1097.4" y1="1290" x2="1097.4" y2="1349" stroke="#6a6e76" stroke-width="1.8"/>
<line x1="1101.4" y1="1290" x2="1101.4" y2="1349" stroke="#9a9a9a" stroke-width="1.3" stroke-dasharray="2.5,2.5"/>
<path d="M732.6,1009 L732.6,1304.6 M831.3,1009 L831.3,1304.6 M934.6,1009 L934.6,1304.6 M1033.3,1009 L1033.3,1304.6 M687,1082.6 L1050,1082.6 M687,1155.1 L1050,1155.1 M687,1226.8 L1050,1226.8" stroke="#cbcbcb" stroke-width="1.8" fill="none"/>
<g fill="#3a5bc3" stroke="#2a47a6" stroke-width="0.8"><rect x="813.40" y="1277.33" width="4.00" height="19.77"/><rect x="817.40" y="1269.69" width="4.00" height="27.41"/><rect x="821.40" y="1254.12" width="4.00" height="42.98"/><rect x="825.40" y="1245.39" width="4.00" height="51.71"/><rect x="829.40" y="1238.76" width="4.00" height="58.34"/><rect x="833.40" y="1232.80" width="4.00" height="64.30"/><rect x="837.40" y="1221.51" width="4.00" height="75.59"/><rect x="841.40" y="1212.98" width="4.00" height="84.12"/><rect x="845.40" y="1206.25" width="4.00" height="90.85"/><rect x="849.40" y="1194.67" width="4.00" height="102.43"/><rect x="853.40" y="1183.93" width="4.00" height="113.17"/><rect x="857.40" y="1174.05" width="4.00" height="123.05"/><rect x="861.40" y="1165.48" width="4.00" height="131.62"/><rect x="865.40" y="1158.29" width="4.00" height="138.81"/><rect x="869.40" y="1152.60" width="4.00" height="144.50"/><rect x="873.40" y="1148.60" width="4.00" height="148.50"/><rect x="877.40" y="1144.95" width="4.00" height="152.15"/><rect x="881.40" y="1142.27" width="4.00" height="154.83"/><rect x="885.40" y="1140.51" width="4.00" height="156.59"/><rect x="889.40" y="1139.91" width="4.00" height="157.19"/><rect x="893.40" y="1139.31" width="4.00" height="157.79"/><rect x="897.40" y="1139.19" width="4.00" height="157.91"/><rect x="901.40" y="1140.06" width="4.00" height="157.04"/><rect x="905.40" y="1140.94" width="4.00" height="156.16"/><rect x="909.40" y="1142.66" width="4.00" height="154.44"/><rect x="913.40" y="1145.31" width="4.00" height="151.79"/><rect x="917.40" y="1148.20" width="4.00" height="148.90"/><rect x="921.40" y="1151.59" width="4.00" height="145.51"/><rect x="925.40" y="1155.10" width="4.00" height="142.00"/><rect x="929.40" y="1159.10" width="4.00" height="138.00"/><rect x="933.40" y="1163.30" width="4.00" height="133.80"/><rect x="937.40" y="1169.90" width="4.00" height="127.20"/><rect x="941.40" y="1176.50" width="4.00" height="120.60"/><rect x="945.40" y="1183.18" width="4.00" height="113.92"/><rect x="949.40" y="1189.86" width="4.00" height="107.24"/><rect x="953.40" y="1196.58" width="4.00" height="100.52"/><rect x="957.40" y="1203.31" width="4.00" height="93.79"/><rect x="961.40" y="1209.96" width="4.00" height="87.14"/><rect x="965.40" y="1216.56" width="4.00" height="80.54"/><rect x="969.40" y="1223.21" width="4.00" height="73.89"/><rect x="973.40" y="1229.89" width="4.00" height="67.21"/><rect x="977.40" y="1236.28" width="4.00" height="60.82"/><rect x="981.40" y="1242.23" width="4.00" height="54.87"/><rect x="985.40" y="1248.15" width="4.00" height="48.95"/><rect x="989.40" y="1253.94" width="4.00" height="43.16"/><rect x="993.40" y="1259.54" width="4.00" height="37.56"/><rect x="997.40" y="1263.82" width="4.00" height="33.28"/><rect x="1001.40" y="1268.10" width="4.00" height="29.00"/><rect x="1005.40" y="1272.86" width="4.00" height="24.24"/><rect x="1009.40" y="1277.62" width="4.00" height="19.48"/></g>
<rect x="822.50" y="1255.00" width="1.20" height="42.10" fill="#fff"/>
<rect x="831.00" y="1240.00" width="1.20" height="57.10" fill="#fff"/>
<rect x="1000.00" y="1265.00" width="1.20" height="32.10" fill="#fff"/>
<rect x="1006.00" y="1272.00" width="1.20" height="25.10" fill="#fff"/>
<rect x="1010.00" y="1276.00" width="1.20" height="21.10" fill="#fff"/>
<path d="M911.0,1140.0 L911.5,1139.0 L912.0,1138.0 L912.5,1136.9 L913.0,1135.9 L913.6,1134.9 L914.1,1133.9 L914.6,1132.9 L915.1,1131.9 L915.6,1130.9 L916.1,1129.9 L916.6,1128.9 L917.1,1127.9 L917.7,1126.9 L918.2,1125.8 L918.7,1124.8 L919.2,1123.8 L919.7,1122.8 L920.2,1121.8 L920.7,1120.7 L921.2,1119.7 L921.8,1118.6 L922.3,1117.6 L922.8,1116.5 L923.3,1115.5 L923.8,1114.4 L924.3,1113.3 L924.8,1112.2 L925.3,1111.1 L925.8,1110.0 L926.3,1108.9 L926.8,1107.8 L927.3,1106.6 L927.9,1105.5 L928.4,1104.3 L928.9,1103.1 L929.4,1102.0 L929.9,1100.8 L930.4,1099.7 L930.9,1098.5 L931.4,1097.3 L931.9,1096.2 L932.4,1095.0 L932.9,1093.9 L933.4,1092.7 L933.9,1091.6 L934.5,1090.5 L935.0,1089.4 L935.5,1088.3 L936.0,1087.2 L936.5,1086.2 L937.0,1085.1 L937.5,1084.1 L938.0,1083.1 L938.5,1082.1 L939.0,1081.2 L939.5,1080.2 L940.0,1079.3 L940.5,1078.3 L941.0,1077.4 L941.5,1076.5 L942.0,1075.6 L942.5,1074.7 L943.0,1073.9 L943.5,1073.0 L944.0,1072.2 L944.5,1071.4 L945.0,1070.5 L945.5,1069.7 L946.0,1069.0 L946.5,1068.2 L947.0,1067.4 L947.5,1066.7 L948.0,1066.0 L948.5,1065.3 L949.0,1064.6 L949.5,1064.0 L950.0,1063.3 L950.5,1062.7 L951.0,1062.1 L951.6,1061.5 L952.1,1060.9 L952.6,1060.4 L953.1,1059.8 L953.6,1059.3 L954.1,1058.8 L954.6,1058.3 L955.1,1057.7 L955.6,1057.2 L956.1,1056.7 L956.6,1056.2 L957.1,1055.7 L957.7,1055.1 L958.2,1054.6 L958.7,1054.1 L959.2,1053.5 L959.7,1053.0 L960.2,1052.4 L960.7,1051.8 L961.2,1051.2 L961.7,1050.6 L962.2,1050.0 L962.8,1049.3 L963.3,1048.7 L963.8,1048.1 L964.3,1047.4 L964.8,1046.8 L965.3,1046.1 L965.8,1045.5 L966.4,1044.8 L966.9,1044.2 L967.4,1043.5 L967.9,1042.9 L968.4,1042.3 L968.9,1041.6 L969.4,1041.0 L969.9,1040.4 L970.5,1039.8 L971.0,1039.2 L971.5,1038.6 L972.0,1038.0 L972.5,1037.4 L973.0,1036.9 L973.5,1036.3 L974.0,1035.8 L974.5,1035.2 L975.0,1034.7 L975.5,1034.1 L976.0,1033.6 L976.5,1033.1 L977.0,1032.5 L977.5,1032.0 L978.0,1031.5 L978.5,1031.0 L979.0,1030.5 L979.5,1029.9 L980.0,1029.5 L980.5,1029.0 L981.0,1028.5 L981.5,1028.0 L982.0,1027.5 L982.5,1027.1 L983.0,1026.6 L983.5,1026.2 L984.0,1025.8 L984.5,1025.3 L985.0,1024.9 L985.5,1024.5 L986.0,1024.1 L986.5,1023.7 L987.0,1023.4 L987.5,1023.0 L988.0,1022.6 L988.5,1022.2 L989.0,1021.9 L989.5,1021.5 L990.0,1021.2 L990.5,1020.9 L991.0,1020.5 L991.5,1020.2 L992.0,1019.9 L992.5,1019.5 L993.0,1019.2 L993.5,1018.9 L994.0,1018.6 L994.5,1018.3 L995.0,1018.0 L995.5,1017.7 L996.0,1017.4 L996.5,1017.1 L997.1,1016.8 L997.6,1016.5 L998.1,1016.2 L998.6,1015.9 L999.1,1015.7 L999.6,1015.4 L1000.1,1015.1 L1000.6,1014.9 L1001.2,1014.6 L1001.7,1014.4 L1002.2,1014.1 L1002.7,1013.9 L1003.2,1013.7 L1003.7,1013.5 L1004.2,1013.3 L1004.8,1013.1 L1005.3,1012.9 L1005.8,1012.7 L1006.3,1012.5 L1006.8,1012.3 L1007.3,1012.2 L1007.9,1012.1 L1008.4,1012.0 L1008.9,1011.9 L1009.4,1011.9 L1009.9,1011.8 L1010.4,1011.7 L1011.0,1011.7 L1011.5,1011.6 L1012.0,1011.5" fill="none" stroke="#a83a58" stroke-width="1.2" stroke-linejoin="round"/>
<rect x="689" y="1011" width="354" height="287.5999999999999" fill="none" stroke="#000" stroke-width="4.2"/>
<rect x="668.0" y="1005.5" width="15.0" height="20" fill="#fff" opacity="0.85"/>
<text x="681.0" y="1021.5" font-size="22" font-family="'Liberation Serif', 'Times New Roman', serif" font-weight="bold" fill="#000" text-anchor="end">5</text>
<rect x="669.0" y="1292.0" width="15.0" height="20" fill="#fff" opacity="0.85"/>
<text x="682.0" y="1308.0" font-size="22" font-family="'Liberation Serif', 'Times New Roman', serif" font-weight="bold" fill="#000" text-anchor="end">0</text>
<rect x="1052.6" y="1003.8" width="27" height="18" fill="#fff"/>
<text x="1054.6" y="1017.8" font-size="15" font-family="'Liberation Serif', 'Times New Roman', serif" font-weight="bold" fill="#4444a4" textLength="22.0" lengthAdjust="spacingAndGlyphs">100</text>
<text x="1058.5" y="1090.4" font-size="14" font-family="'Liberation Serif', 'Times New Roman', serif" font-weight="bold" fill="#4848aa" textLength="14.0" lengthAdjust="spacingAndGlyphs">75</text>
<text x="1059.0" y="1159.2" font-size="9" font-family="'Liberation Sans', Arial, sans-serif" font-weight="normal" fill="#5858a8">50</text>
<text x="1059.0" y="1230.3" font-size="9" font-family="'Liberation Sans', Arial, sans-serif" font-weight="normal" fill="#5858a8">25</text>
<text x="1065.0" y="1303.4" font-size="9" font-family="'Liberation Sans', Arial, sans-serif" font-weight="normal" fill="#5858a8">0</text>
<text x="691.0" y="1329.7" font-size="27.5" font-family="'Liberation Serif', 'Times New Roman', serif" font-weight="bold" fill="#000" text-anchor="middle" textLength="13.5" lengthAdjust="spacingAndGlyphs">0</text>
<text x="728.9" y="1328.3" font-size="27.5" font-family="'Liberation Serif', 'Times New Roman', serif" font-weight="bold" fill="#000" text-anchor="middle" textLength="27.0" lengthAdjust="spacingAndGlyphs">10</text>
<text x="822.7" y="1325.4" font-size="27.5" font-family="'Liberation Serif', 'Times New Roman', serif" font-weight="bold" fill="#000" text-anchor="middle" textLength="40.5" lengthAdjust="spacingAndGlyphs">100</text>
<text x="938.0" y="1326.9" font-size="27.5" font-family="'Liberation Serif', 'Times New Roman', serif" font-weight="bold" fill="#000" text-anchor="middle" textLength="54.0" lengthAdjust="spacingAndGlyphs">1000</text>
<text x="801.4" y="1352.5" font-size="28" font-family="'Liberation Serif', 'Times New Roman', serif" font-weight="bold" fill="#000" text-anchor="middle" textLength="175.0" lengthAdjust="spacingAndGlyphs">Diameter (nm)</text>
<text x="660.9" y="1153.5" font-size="21" font-family="'Liberation Serif', 'Times New Roman', serif" font-weight="bold" fill="#000" text-anchor="middle" textLength="229.0" lengthAdjust="spacingAndGlyphs" transform="rotate(-90 660.9 1153.5)">Differential Intensity (%)</text>
<text x="1094.8" y="1172.0" font-size="21" font-family="'Liberation Serif', 'Times New Roman', serif" font-weight="bold" fill="#000" text-anchor="middle" textLength="232.0" lengthAdjust="spacingAndGlyphs" transform="rotate(-90 1094.8 1172.0)">Cumulative  Intensity (%)</text>
<text x="706.1" y="1039.0" font-size="22" font-family="'Liberation Sans', Arial, sans-serif" font-weight="bold" fill="#000" textLength="247.5" lengthAdjust="spacingAndGlyphs">Diameter = 382 ± 50 nm</text>
<text x="706.1" y="1091.7" font-size="22" font-family="'Liberation Sans', Arial, sans-serif" font-weight="bold" fill="#000" textLength="118.0" lengthAdjust="spacingAndGlyphs">PDI = 0.801</text>
<rect x="1192" y="985.8" width="457" height="367.10000000000014" fill="url(#bg)"/>
<path d="M1192,1352.9 L1192,985.8 L1647,985.8" fill="none" stroke="#c6c6c6" stroke-width="1.3"/>
<path d="M1192,1352.9 L1279,1352.9 M1478.8,1352.9 L1649,1352.9" fill="none" stroke="#6e6e6e" stroke-width="2"/>
<line x1="1649" y1="988" x2="1649" y2="1060" stroke="#6a6e76" stroke-width="1.8"/>
<line x1="1653" y1="988" x2="1653" y2="1060" stroke="#9a9a9a" stroke-width="1.3" stroke-dasharray="2.5,2.5"/>
<line x1="1649" y1="1295" x2="1649" y2="1353" stroke="#6a6e76" stroke-width="1.8"/>
<line x1="1653" y1="1295" x2="1653" y2="1353" stroke="#9a9a9a" stroke-width="1.3" stroke-dasharray="2.5,2.5"/>
<path d="M1299.5,1011.6 L1299.5,1307.6 M1406.2,1011.6 L1406.2,1307.6 M1507.2,1011.6 L1507.2,1307.6 M1564.7,1011.6 L1564.7,1307.6 M1238.3,1086 L1603.7,1086 M1238.3,1158.5 L1603.7,1158.5 M1238.3,1229.7 L1603.7,1229.7" stroke="#cbcbcb" stroke-width="1.8" fill="none"/>
<g fill="#3a5bc3" stroke="#2a47a6" stroke-width="0.8"><rect x="1368.40" y="1277.83" width="4.07" height="22.27"/><rect x="1372.47" y="1270.05" width="4.07" height="30.05"/><rect x="1376.54" y="1257.27" width="4.07" height="42.83"/><rect x="1380.61" y="1248.14" width="4.07" height="51.96"/><rect x="1384.68" y="1238.57" width="4.07" height="61.53"/><rect x="1388.75" y="1226.04" width="4.07" height="74.06"/><rect x="1392.82" y="1210.50" width="4.07" height="89.60"/><rect x="1396.89" y="1202.79" width="4.07" height="97.31"/><rect x="1400.96" y="1190.45" width="4.07" height="109.65"/><rect x="1405.03" y="1175.61" width="4.07" height="124.49"/><rect x="1409.10" y="1162.40" width="4.07" height="137.70"/><rect x="1413.17" y="1151.68" width="4.07" height="148.42"/><rect x="1417.23" y="1142.80" width="4.07" height="157.30"/><rect x="1421.30" y="1135.74" width="4.07" height="164.36"/><rect x="1425.37" y="1130.01" width="4.07" height="170.09"/><rect x="1429.44" y="1125.15" width="4.07" height="174.95"/><rect x="1433.51" y="1122.71" width="4.07" height="177.39"/><rect x="1437.58" y="1120.77" width="4.07" height="179.33"/><rect x="1441.65" y="1121.15" width="4.07" height="178.95"/><rect x="1445.72" y="1121.63" width="4.07" height="178.47"/><rect x="1449.79" y="1123.69" width="4.07" height="176.41"/><rect x="1453.86" y="1125.75" width="4.07" height="174.35"/><rect x="1457.93" y="1129.77" width="4.07" height="170.33"/><rect x="1462.00" y="1133.83" width="4.07" height="166.27"/><rect x="1466.07" y="1139.66" width="4.07" height="160.44"/><rect x="1470.14" y="1145.72" width="4.07" height="154.38"/><rect x="1474.21" y="1151.65" width="4.07" height="148.45"/><rect x="1478.28" y="1157.54" width="4.07" height="142.56"/><rect x="1482.35" y="1164.70" width="4.07" height="135.40"/><rect x="1486.42" y="1172.46" width="4.07" height="127.64"/><rect x="1490.49" y="1179.99" width="4.07" height="120.11"/><rect x="1494.56" y="1187.37" width="4.07" height="112.73"/><rect x="1498.63" y="1194.82" width="4.07" height="105.28"/><rect x="1502.70" y="1202.34" width="4.07" height="97.76"/><rect x="1506.77" y="1209.84" width="4.07" height="90.26"/><rect x="1510.83" y="1217.31" width="4.07" height="82.79"/><rect x="1514.90" y="1224.76" width="4.07" height="75.34"/><rect x="1518.97" y="1232.19" width="4.07" height="67.91"/><rect x="1523.04" y="1239.50" width="4.07" height="60.60"/><rect x="1527.11" y="1246.30" width="4.07" height="53.80"/><rect x="1531.18" y="1253.09" width="4.07" height="47.01"/><rect x="1535.25" y="1259.81" width="4.07" height="40.29"/><rect x="1539.32" y="1266.53" width="4.07" height="33.57"/><rect x="1543.39" y="1272.00" width="4.07" height="28.10"/><rect x="1547.46" y="1277.46" width="4.07" height="22.64"/><rect x="1551.53" y="1282.10" width="4.07" height="18.00"/></g>
<rect x="1372.50" y="1270.00" width="1.20" height="30.10" fill="#fff"/>
<rect x="1377.00" y="1260.00" width="1.20" height="40.10" fill="#fff"/>
<rect x="1383.00" y="1245.00" width="1.20" height="55.10" fill="#fff"/>
<rect x="1551.80" y="1278.00" width="1.40" height="22.10" fill="#fff"/>
<path d="M1461.7,1128.6 L1462.2,1127.4 L1462.7,1126.1 L1463.2,1124.9 L1463.7,1123.6 L1464.2,1122.4 L1464.7,1121.1 L1465.2,1119.8 L1465.8,1118.6 L1466.3,1117.3 L1466.8,1116.0 L1467.3,1114.7 L1467.8,1113.4 L1468.3,1112.2 L1468.8,1110.9 L1469.3,1109.6 L1469.8,1108.4 L1470.3,1107.1 L1470.8,1105.9 L1471.3,1104.7 L1471.8,1103.5 L1472.4,1102.3 L1472.9,1101.1 L1473.4,1100.0 L1473.9,1098.8 L1474.4,1097.7 L1474.9,1096.6 L1475.4,1095.5 L1475.9,1094.5 L1476.4,1093.5 L1476.9,1092.5 L1477.4,1091.5 L1477.9,1090.5 L1478.4,1089.6 L1478.9,1088.6 L1479.4,1087.7 L1479.9,1086.8 L1480.4,1085.9 L1480.9,1085.0 L1481.4,1084.1 L1481.9,1083.3 L1482.4,1082.4 L1482.9,1081.6 L1483.4,1080.8 L1483.9,1079.9 L1484.5,1079.1 L1485.0,1078.3 L1485.5,1077.5 L1486.0,1076.7 L1486.5,1075.9 L1487.0,1075.1 L1487.5,1074.4 L1488.0,1073.6 L1488.5,1072.8 L1489.0,1072.1 L1489.5,1071.3 L1490.0,1070.5 L1490.5,1069.8 L1491.0,1069.0 L1491.5,1068.3 L1492.0,1067.5 L1492.5,1066.8 L1493.0,1066.0 L1493.5,1065.3 L1494.0,1064.5 L1494.5,1063.8 L1495.0,1063.0 L1495.5,1062.3 L1496.0,1061.6 L1496.5,1060.8 L1497.0,1060.1 L1497.5,1059.4 L1498.0,1058.7 L1498.5,1057.9 L1499.0,1057.2 L1499.5,1056.5 L1500.0,1055.8 L1500.5,1055.2 L1501.0,1054.5 L1501.5,1053.8 L1502.0,1053.1 L1502.5,1052.4 L1503.0,1051.8 L1503.5,1051.1 L1504.0,1050.5 L1504.5,1049.8 L1505.0,1049.2 L1505.5,1048.6 L1506.0,1048.0 L1506.5,1047.3 L1507.0,1046.7 L1507.5,1046.1 L1508.0,1045.6 L1508.5,1045.0 L1509.0,1044.4 L1509.5,1043.9 L1510.0,1043.3 L1510.5,1042.8 L1511.0,1042.2 L1511.5,1041.7 L1512.0,1041.2 L1512.5,1040.7 L1513.0,1040.2 L1513.5,1039.7 L1514.0,1039.2 L1514.5,1038.7 L1515.0,1038.2 L1515.5,1037.7 L1516.0,1037.3 L1516.5,1036.8 L1517.0,1036.3 L1517.5,1035.9 L1518.0,1035.5 L1518.5,1035.0 L1519.0,1034.6 L1519.5,1034.2 L1520.0,1033.7 L1520.5,1033.3 L1521.0,1032.9 L1521.5,1032.5 L1522.0,1032.1 L1522.5,1031.7 L1523.0,1031.3 L1523.5,1030.9 L1524.0,1030.5 L1524.5,1030.2 L1525.0,1029.8 L1525.5,1029.4 L1526.0,1029.0 L1526.5,1028.7 L1527.0,1028.3 L1527.5,1028.0 L1528.0,1027.6 L1528.5,1027.2 L1529.0,1026.9 L1529.5,1026.5 L1530.0,1026.2 L1530.5,1025.8 L1531.0,1025.5 L1531.5,1025.2 L1532.0,1024.8 L1532.6,1024.5 L1533.1,1024.1 L1533.6,1023.8 L1534.1,1023.5 L1534.6,1023.2 L1535.1,1022.8 L1535.6,1022.5 L1536.1,1022.2 L1536.6,1021.9 L1537.1,1021.6 L1537.7,1021.3 L1538.2,1021.0 L1538.7,1020.7 L1539.2,1020.4 L1539.7,1020.2 L1540.2,1019.9 L1540.7,1019.6 L1541.2,1019.4 L1541.7,1019.1 L1542.2,1018.8 L1542.8,1018.6 L1543.3,1018.4 L1543.8,1018.1 L1544.3,1017.9 L1544.8,1017.7 L1545.3,1017.4 L1545.8,1017.2 L1546.3,1017.0 L1546.8,1016.8 L1547.3,1016.6 L1547.9,1016.4 L1548.4,1016.2 L1548.9,1016.0 L1549.4,1015.9 L1549.9,1015.7 L1550.4,1015.6 L1550.9,1015.4 L1551.4,1015.3 L1551.9,1015.3 L1552.4,1015.2 L1553.0,1015.2 L1553.5,1015.2 L1554.0,1015.1 L1554.5,1015.1 L1555.0,1015.1 L1555.5,1015.1 L1556.0,1015.0" fill="none" stroke="#a83a58" stroke-width="1.2" stroke-linejoin="round"/>
<rect x="1240.3" y="1013.6" width="356.4000000000001" height="287.9999999999999" fill="none" stroke="#000" stroke-width="4.2"/>
<rect x="1217.0" y="1010.0" width="15.0" height="20" fill="#fff" opacity="0.85"/>
<text x="1230.0" y="1026.0" font-size="22" font-family="'Liberation Serif', 'Times New Roman', serif" font-weight="bold" fill="#000" text-anchor="end">5</text>
<rect x="1217.0" y="1296.0" width="15.0" height="20" fill="#fff" opacity="0.85"/>
<text x="1230.0" y="1312.0" font-size="22" font-family="'Liberation Serif', 'Times New Roman', serif" font-weight="bold" fill="#000" text-anchor="end">0</text>
<rect x="1603.4" y="1008.1" width="27" height="18" fill="#fff"/>
<text x="1605.4" y="1022.1" font-size="15" font-family="'Liberation Serif', 'Times New Roman', serif" font-weight="bold" fill="#4444a4" textLength="22.0" lengthAdjust="spacingAndGlyphs">100</text>
<text x="1609.5" y="1094.4" font-size="14" font-family="'Liberation Serif', 'Times New Roman', serif" font-weight="bold" fill="#4848aa" textLength="14.0" lengthAdjust="spacingAndGlyphs">75</text>
<text x="1610.0" y="1161.7" font-size="9" font-family="'Liberation Sans', Arial, sans-serif" font-weight="normal" fill="#5858a8">50</text>
<text x="1610.0" y="1232.9" font-size="9" font-family="'Liberation Sans', Arial, sans-serif" font-weight="normal" fill="#5858a8">25</text>
<text x="1616.0" y="1306.8" font-size="9" font-family="'Liberation Sans', Arial, sans-serif" font-weight="normal" fill="#5858a8">0</text>
<text x="1243.2" y="1334.0" font-size="27.5" font-family="'Liberation Serif', 'Times New Roman', serif" font-weight="bold" fill="#000" text-anchor="middle" textLength="13.5" lengthAdjust="spacingAndGlyphs">0</text>
<text x="1292.4" y="1328.3" font-size="27.5" font-family="'Liberation Serif', 'Times New Roman', serif" font-weight="bold" fill="#000" text-anchor="middle" textLength="27.0" lengthAdjust="spacingAndGlyphs">10</text>
<text x="1396.2" y="1329.7" font-size="27.5" font-family="'Liberation Serif', 'Times New Roman', serif" font-weight="bold" fill="#000" text-anchor="middle" textLength="40.5" lengthAdjust="spacingAndGlyphs">100</text>
<text x="1505.8" y="1329.7" font-size="27.5" font-family="'Liberation Serif', 'Times New Roman', serif" font-weight="bold" fill="#000" text-anchor="middle" textLength="54.0" lengthAdjust="spacingAndGlyphs">1000</text>
<text x="1373.5" y="1352.5" font-size="28" font-family="'Liberation Serif', 'Times New Roman', serif" font-weight="bold" fill="#000" text-anchor="middle" textLength="175.0" lengthAdjust="spacingAndGlyphs">Diameter (nm)</text>
<text x="1219.6" y="1177.0" font-size="21" font-family="'Liberation Serif', 'Times New Roman', serif" font-weight="bold" fill="#000" text-anchor="middle" textLength="228.0" lengthAdjust="spacingAndGlyphs" transform="rotate(-90 1219.6 1177.0)">Differential Intensity (%)</text>
<text x="1647.0" y="1176.3" font-size="21" font-family="'Liberation Serif', 'Times New Roman', serif" font-weight="bold" fill="#000" text-anchor="middle" textLength="232.0" lengthAdjust="spacingAndGlyphs" transform="rotate(-90 1647.0 1176.3)">Cumulative  Intensity (%)</text>
<text x="1259.1" y="1052.4" font-size="22" font-family="'Liberation Sans', Arial, sans-serif" font-weight="bold" fill="#000" textLength="249.5" lengthAdjust="spacingAndGlyphs">Diameter = 190 ± 50 nm</text>
<text x="1259.1" y="1105.3" font-size="22" font-family="'Liberation Sans', Arial, sans-serif" font-weight="bold" fill="#000" textLength="118.6" lengthAdjust="spacingAndGlyphs">PDI = 0.571</text>
<rect x="31.6" y="1436" width="457.4" height="366" fill="url(#bg)"/>
<path d="M31.6,1802 L31.6,1436 L487,1436" fill="none" stroke="#c6c6c6" stroke-width="1.3"/>
<path d="M31.6,1802 L112.4,1802 M312,1802 L489,1802" fill="none" stroke="#6e6e6e" stroke-width="2"/>
<line x1="489" y1="1438" x2="489" y2="1495" stroke="#6a6e76" stroke-width="1.8"/>
<line x1="493" y1="1438" x2="493" y2="1495" stroke="#9a9a9a" stroke-width="1.3" stroke-dasharray="2.5,2.5"/>
<line x1="489" y1="1731" x2="489" y2="1802" stroke="#6a6e76" stroke-width="1.8"/>
<line x1="493" y1="1731" x2="493" y2="1802" stroke="#9a9a9a" stroke-width="1.3" stroke-dasharray="2.5,2.5"/>
<path d="M153.6,1463 L153.6,1757.6 M255.8,1463 L255.8,1757.6 M355.5,1463 L355.5,1757.6 M426,1463 L426,1757.6 M78,1536.2 L442.3,1536.2 M78,1592.6 L442.3,1592.6 M78,1608.6 L442.3,1608.6 M78,1680 L442.3,1680" stroke="#cbcbcb" stroke-width="1.8" fill="none"/>
<g fill="#3a5bc3" stroke="#2a47a6" stroke-width="0.8"><rect x="186.10" y="1738.70" width="3.80" height="11.40"/><rect x="189.90" y="1728.50" width="4.40" height="21.60"/><rect x="194.30" y="1718.40" width="3.50" height="31.70"/><rect x="197.80" y="1711.10" width="3.70" height="39.00"/><rect x="201.50" y="1706.20" width="4.40" height="43.90"/><rect x="205.90" y="1705.30" width="4.30" height="44.80"/><rect x="210.20" y="1708.20" width="3.80" height="41.90"/><rect x="214.00" y="1715.50" width="3.50" height="34.60"/><rect x="217.50" y="1715.50" width="4.40" height="34.60"/><rect x="221.90" y="1718.40" width="4.30" height="31.70"/></g>
<rect x="204.50" y="1705.00" width="1.00" height="45.10" fill="#fff"/>
<rect x="213.50" y="1715.00" width="1.00" height="35.10" fill="#fff"/>
<rect x="225.50" y="1712.00" width="1.20" height="38.10" fill="#fff"/>
<g fill="#3a5bc3" stroke="#2a47a6" stroke-width="0.8"><rect x="226.80" y="1712.50" width="2.30" height="37.60"/><rect x="229.10" y="1706.70" width="5.80" height="43.40"/><rect x="234.90" y="1687.90" width="5.80" height="62.20"/><rect x="240.70" y="1671.30" width="5.90" height="78.80"/><rect x="246.60" y="1636.50" width="5.80" height="113.60"/><rect x="252.40" y="1621.90" width="5.20" height="128.20"/><rect x="257.60" y="1616.10" width="4.90" height="134.00"/><rect x="262.50" y="1622.50" width="4.40" height="127.60"/><rect x="266.90" y="1639.40" width="4.30" height="110.70"/><rect x="271.20" y="1660.30" width="4.40" height="89.80"/><rect x="275.60" y="1685.00" width="4.40" height="65.10"/><rect x="280.00" y="1711.10" width="2.90" height="39.00"/></g>
<rect x="204.50" y="1705.00" width="1.00" height="45.10" fill="#fff"/>
<rect x="213.50" y="1715.00" width="1.00" height="35.10" fill="#fff"/>
<rect x="225.50" y="1712.00" width="1.20" height="38.10" fill="#fff"/>
<g fill="#3a5bc3" stroke="#2a47a6" stroke-width="0.8"><rect x="404.00" y="1733.50" width="2.90" height="16.60"/><rect x="406.90" y="1687.90" width="3.80" height="62.20"/><rect x="410.70" y="1620.20" width="2.90" height="129.90"/><rect x="413.60" y="1547.00" width="3.70" height="203.10"/><rect x="417.30" y="1493.30" width="5.00" height="256.80"/><rect x="422.30" y="1474.40" width="3.70" height="275.70"/><rect x="426.00" y="1502.00" width="3.50" height="248.10"/><rect x="429.50" y="1574.60" width="2.90" height="175.50"/><rect x="432.40" y="1671.30" width="1.50" height="78.80"/></g>
<rect x="204.50" y="1705.00" width="1.00" height="45.10" fill="#fff"/>
<rect x="213.50" y="1715.00" width="1.00" height="35.10" fill="#fff"/>
<rect x="225.50" y="1712.00" width="1.20" height="38.10" fill="#fff"/>
<path d="M220.4,1718.4 L220.9,1717.9 L221.4,1717.4 L221.9,1717.0 L222.4,1716.5 L222.9,1716.1 L223.4,1715.7 L223.9,1715.3 L224.4,1714.9 L224.9,1714.4 L225.4,1714.0 L225.9,1713.6 L226.5,1713.2 L227.0,1712.7 L227.5,1712.3 L228.0,1711.8 L228.5,1711.3 L229.0,1710.7 L229.5,1710.1 L230.0,1709.5 L230.5,1708.9 L231.0,1708.2 L231.5,1707.5 L232.0,1706.7 L232.5,1705.9 L233.0,1705.0 L233.5,1704.1 L234.0,1703.2 L234.5,1702.3 L235.0,1701.3 L235.5,1700.3 L236.0,1699.2 L236.5,1698.2 L237.0,1697.1 L237.5,1695.9 L238.0,1694.8 L238.5,1693.6 L239.0,1692.4 L239.5,1691.2 L240.0,1690.0 L240.5,1688.8 L241.0,1687.5 L241.5,1686.3 L242.0,1685.0 L242.5,1683.7 L243.0,1682.3 L243.6,1680.8 L244.1,1679.4 L244.6,1677.9 L245.1,1676.4 L245.6,1674.8 L246.2,1673.3 L246.7,1671.7 L247.2,1670.1 L247.7,1668.5 L248.2,1667.0 L248.8,1665.4 L249.3,1663.8 L249.8,1662.2 L250.3,1660.6 L250.8,1659.1 L251.4,1657.5 L251.9,1656.0 L252.4,1654.5 L252.9,1653.1 L253.4,1651.6 L253.9,1650.1 L254.4,1648.7 L254.9,1647.2 L255.4,1645.7 L255.9,1644.2 L256.4,1642.8 L256.9,1641.3 L257.4,1639.8 L257.9,1638.4 L258.5,1636.9 L259.0,1635.5 L259.5,1634.1 L260.0,1632.7 L260.5,1631.3 L261.0,1630.0 L261.5,1628.6 L262.0,1627.3 L262.5,1626.1 L263.0,1624.9 L263.5,1623.7 L264.0,1622.5 L264.5,1621.4 L265.0,1620.3 L265.5,1619.2 L266.0,1618.1 L266.5,1617.1 L267.0,1616.1 L267.5,1615.1 L268.0,1614.1 L268.5,1613.1 L269.0,1612.2 L269.5,1611.3 L270.1,1610.4 L270.6,1609.5 L271.1,1608.7 L271.6,1607.9 L272.1,1607.1 L272.6,1606.3 L273.1,1605.6 L273.6,1604.8 L274.1,1604.1 L274.6,1603.5 L275.1,1602.8 L275.6,1602.2 L276.1,1601.6 L276.6,1601.0 L277.1,1600.5 L277.6,1599.9 L278.2,1599.4 L278.7,1599.0 L279.2,1598.6 L279.7,1598.2 L280.2,1597.8 L280.7,1597.5 L281.2,1597.2 L281.7,1597.0 L282.3,1596.8 L282.8,1596.6 L283.3,1596.5 L283.8,1596.4 L284.3,1596.4 L284.8,1596.4 L285.3,1596.4 L285.8,1596.4 L286.3,1596.4 L286.8,1596.4 L287.3,1596.4 L287.8,1596.4 L288.3,1596.4 L288.8,1596.4 L289.3,1596.4 L289.8,1596.4 L290.3,1596.4 L290.8,1596.4 L291.3,1596.4 L291.8,1596.4 L292.3,1596.4 L292.8,1596.4 L293.3,1596.4 L293.8,1596.4 L294.3,1596.4 L294.8,1596.4 L295.3,1596.4 L295.8,1596.4 L296.3,1596.4 L296.8,1596.4 L297.3,1596.4 L297.8,1596.4 L298.3,1596.4 L298.8,1596.4 L299.3,1596.4 L299.8,1596.4 L300.3,1596.4 L300.8,1596.4 L301.3,1596.4 L301.8,1596.4 L302.3,1596.4 L302.8,1596.4 L303.3,1596.4 L303.8,1596.4 L304.3,1596.4 L304.8,1596.4 L305.3,1596.4 L305.8,1596.4 L306.3,1596.4 L306.8,1596.4 L307.3,1596.4 L307.8,1596.4 L308.3,1596.4 L308.8,1596.4 L309.3,1596.4 L309.8,1596.4 L310.3,1596.4 L310.8,1596.4 L311.3,1596.4 L311.8,1596.4 L312.3,1596.4 L312.8,1596.4 L313.4,1596.4 L313.9,1596.4 L314.4,1596.4 L314.9,1596.4 L315.4,1596.4 L315.9,1596.4 L316.4,1596.4 L316.9,1596.4 L317.4,1596.4 L317.9,1596.4 L318.4,1596.4 L318.9,1596.4 L319.4,1596.4 L319.9,1596.4 L320.4,1596.4 L320.9,1596.4 L321.4,1596.4 L321.9,1596.4 L322.4,1596.4 L322.9,1596.4 L323.4,1596.4 L323.9,1596.4 L324.4,1596.4 L324.9,1596.4 L325.4,1596.4 L325.9,1596.4 L326.4,1596.4 L326.9,1596.4 L327.4,1596.4 L327.9,1596.4 L328.4,1596.4 L328.9,1596.4 L329.4,1596.4 L329.9,1596.4 L330.4,1596.4 L330.9,1596.4 L331.4,1596.4 L331.9,1596.4 L332.4,1596.4 L332.9,1596.4 L333.4,1596.4 L333.9,1596.4 L334.4,1596.4 L334.9,1596.4 L335.4,1596.4 L335.9,1596.4 L336.4,1596.4 L336.9,1596.4 L337.4,1596.4 L337.9,1596.4 L338.4,1596.4 L338.9,1596.4 L339.4,1596.4 L339.9,1596.4 L340.4,1596.4 L340.9,1596.4 L341.4,1596.4 L341.9,1596.4 L342.4,1596.4 L342.9,1596.4 L343.4,1596.4 L343.9,1596.4 L344.4,1596.4 L344.9,1596.4 L345.4,1596.4 L345.9,1596.4 L346.4,1596.4 L346.9,1596.4 L347.4,1596.4 L347.9,1596.4 L348.4,1596.4 L348.9,1596.4 L349.4,1596.4 L349.9,1596.4 L350.4,1596.4 L350.9,1596.4 L351.4,1596.4 L351.9,1596.4 L352.4,1596.4 L352.9,1596.4 L353.4,1596.4 L353.9,1596.4 L354.4,1596.4 L354.9,1596.4 L355.4,1596.4 L355.9,1596.4 L356.4,1596.4 L356.9,1596.4 L357.4,1596.4 L357.9,1596.4 L358.4,1596.4 L358.9,1596.4 L359.4,1596.4 L359.9,1596.4 L360.4,1596.4 L360.9,1596.4 L361.4,1596.4 L361.9,1596.4 L362.4,1596.4 L362.9,1596.4 L363.4,1596.4 L363.9,1596.4 L364.4,1596.4 L364.9,1596.4 L365.4,1596.4 L365.9,1596.4 L366.4,1596.4 L366.9,1596.4 L367.4,1596.4 L367.9,1596.4 L368.4,1596.4 L368.9,1596.4 L369.4,1596.4 L369.9,1596.4 L370.4,1596.4 L370.9,1596.4 L371.4,1596.4 L372.0,1596.4 L372.5,1596.4 L373.0,1596.4 L373.5,1596.4 L374.0,1596.4 L374.5,1596.4 L375.0,1596.4 L375.5,1596.4 L376.0,1596.4 L376.5,1596.4 L377.0,1596.4 L377.5,1596.4 L378.0,1596.4 L378.5,1596.4 L379.0,1596.4 L379.5,1596.4 L380.0,1596.4 L380.5,1596.4 L381.0,1596.4 L381.5,1596.4 L382.0,1596.4 L382.5,1596.4 L383.0,1596.4 L383.5,1596.4 L384.0,1596.4 L384.5,1596.4 L385.0,1596.4 L385.5,1596.4 L386.0,1596.4 L386.5,1596.4 L387.0,1596.4 L387.5,1596.4 L388.0,1596.4 L388.5,1596.4 L389.0,1596.4 L389.5,1596.4 L390.0,1596.4 L390.5,1596.4 L391.0,1596.4 L391.5,1596.4 L392.0,1596.4 L392.5,1596.4 L393.0,1596.4 L393.5,1596.4 L394.0,1596.4 L394.5,1596.4 L395.0,1596.4 L395.5,1596.4 L396.0,1596.4 L396.5,1596.4 L397.0,1596.4 L397.5,1596.4 L398.0,1596.4 L398.5,1596.4 L399.0,1596.4 L399.5,1596.4 L400.0,1596.4 L400.5,1596.4 L401.0,1596.4 L401.5,1596.4 L402.0,1596.3 L402.5,1596.2 L403.0,1596.0 L403.5,1595.7 L404.0,1595.3 L404.5,1594.7 L405.0,1594.0 L405.5,1593.1 L406.1,1592.1 L406.6,1590.9 L407.1,1589.5 L407.6,1587.9 L408.1,1586.1 L408.7,1584.1 L409.2,1581.8 L409.7,1579.3 L410.2,1576.5 L410.8,1573.6 L411.3,1570.5 L411.8,1567.2 L412.3,1563.8 L412.9,1560.4 L413.4,1556.8 L413.9,1553.2 L414.4,1549.6 L414.9,1546.0 L415.5,1542.4 L416.0,1538.9 L416.5,1535.4 L417.0,1532.0 L417.5,1528.5 L418.0,1524.9 L418.5,1521.3 L419.0,1517.7 L419.5,1514.3 L420.0,1510.9 L420.5,1507.8 L421.0,1505.0 L421.5,1502.4 L422.0,1500.0 L422.5,1497.7 L423.0,1495.6 L423.5,1493.6 L424.1,1491.7 L424.6,1489.9 L425.1,1488.2 L425.6,1486.5 L426.1,1484.8 L426.6,1483.1 L427.1,1481.4 L427.7,1479.8 L428.2,1478.3 L428.7,1476.8 L429.2,1475.4 L429.8,1474.0 L430.3,1472.6 L430.8,1471.3 L431.3,1469.9 L431.9,1468.5 L432.4,1467.1" fill="none" stroke="#a83a58" stroke-width="1.2" stroke-linejoin="round"/>
<rect x="80" y="1465" width="355.3" height="286.5999999999999" fill="none" stroke="#000" stroke-width="4.2"/>
<rect x="51.0" y="1462.0" width="26.0" height="20" fill="#fff" opacity="0.85"/>
<text x="75.0" y="1478.0" font-size="22" font-family="'Liberation Serif', 'Times New Roman', serif" font-weight="bold" fill="#000" text-anchor="end">10</text>
<rect x="58.0" y="1583.5" width="15.0" height="20" fill="#fff" opacity="0.85"/>
<text x="71.0" y="1599.5" font-size="22" font-family="'Liberation Serif', 'Times New Roman', serif" font-weight="bold" fill="#000" text-anchor="end">5</text>
<rect x="58.0" y="1741.5" width="15.0" height="20" fill="#fff" opacity="0.85"/>
<text x="71.0" y="1757.5" font-size="22" font-family="'Liberation Serif', 'Times New Roman', serif" font-weight="bold" fill="#000" text-anchor="end">0</text>
<rect x="445.0" y="1459.0" width="27" height="18" fill="#fff"/>
<text x="447.0" y="1473.0" font-size="15" font-family="'Liberation Serif', 'Times New Roman', serif" font-weight="bold" fill="#4444a4" textLength="22.0" lengthAdjust="spacingAndGlyphs">100</text>
<text x="451.5" y="1541.8" font-size="14" font-family="'Liberation Serif', 'Times New Roman', serif" font-weight="bold" fill="#4848aa" textLength="14.0" lengthAdjust="spacingAndGlyphs">75</text>
<text x="452.0" y="1611.8" font-size="9" font-family="'Liberation Sans', Arial, sans-serif" font-weight="normal" fill="#5858a8">50</text>
<text x="452.0" y="1683.8" font-size="9" font-family="'Liberation Sans', Arial, sans-serif" font-weight="normal" fill="#5858a8">25</text>
<text x="458.0" y="1756.4" font-size="9" font-family="'Liberation Sans', Arial, sans-serif" font-weight="normal" fill="#5858a8">0</text>
<text x="82.4" y="1779.6" font-size="27.5" font-family="'Liberation Serif', 'Times New Roman', serif" font-weight="bold" fill="#000" text-anchor="middle" textLength="13.5" lengthAdjust="spacingAndGlyphs">0</text>
<text x="150.7" y="1776.7" font-size="27.5" font-family="'Liberation Serif', 'Times New Roman', serif" font-weight="bold" fill="#000" text-anchor="middle" textLength="40.5" lengthAdjust="spacingAndGlyphs">100</text>
<text x="250.9" y="1781.1" font-size="27.5" font-family="'Liberation Serif', 'Times New Roman', serif" font-weight="bold" fill="#000" text-anchor="middle" textLength="54.0" lengthAdjust="spacingAndGlyphs">1000</text>
<text x="352.6" y="1779.6" font-size="27.5" font-family="'Liberation Serif', 'Times New Roman', serif" font-weight="bold" fill="#000" text-anchor="middle" textLength="67.5" lengthAdjust="spacingAndGlyphs">10000</text>
<text x="205.9" y="1805.0" font-size="28" font-family="'Liberation Serif', 'Times New Roman', serif" font-weight="bold" fill="#000" text-anchor="middle" textLength="175.0" lengthAdjust="spacingAndGlyphs">Diameter (nm)</text>
<text x="52.1" y="1605.8" font-size="21" font-family="'Liberation Serif', 'Times New Roman', serif" font-weight="bold" fill="#000" text-anchor="middle" textLength="228.0" lengthAdjust="spacingAndGlyphs" transform="rotate(-90 52.1 1605.8)">Differential Intensity (%)</text>
<text x="482.6" y="1612.4" font-size="21" font-family="'Liberation Serif', 'Times New Roman', serif" font-weight="bold" fill="#000" text-anchor="middle" textLength="232.0" lengthAdjust="spacingAndGlyphs" transform="rotate(-90 482.6 1612.4)">Cumulative  Intensity (%)</text>
<text x="97.8" y="1495.3" font-size="22" font-family="'Liberation Sans', Arial, sans-serif" font-weight="bold" fill="#000" textLength="268.0" lengthAdjust="spacingAndGlyphs">Diameter =  1867 ± 80 nm</text>
<text x="97.8" y="1547.0" font-size="22" font-family="'Liberation Sans', Arial, sans-serif" font-weight="bold" fill="#000" textLength="99.4" lengthAdjust="spacingAndGlyphs">PDI= 0.83</text>
<rect x="618.1" y="1440.2" width="456.9" height="365.79999999999995" fill="url(#bg)"/>
<path d="M618.1,1806 L618.1,1440.2 L1073,1440.2" fill="none" stroke="#c6c6c6" stroke-width="1.3"/>
<path d="M618.1,1806 L726.4,1806 M926,1806 L1075,1806" fill="none" stroke="#6e6e6e" stroke-width="2"/>
<line x1="1075" y1="1442" x2="1075" y2="1495" stroke="#6a6e76" stroke-width="1.8"/>
<line x1="1079" y1="1442" x2="1079" y2="1495" stroke="#9a9a9a" stroke-width="1.3" stroke-dasharray="2.5,2.5"/>
<line x1="1075" y1="1728" x2="1075" y2="1806" stroke="#6a6e76" stroke-width="1.8"/>
<line x1="1079" y1="1728" x2="1079" y2="1806" stroke="#9a9a9a" stroke-width="1.3" stroke-dasharray="2.5,2.5"/>
<path d="M746.7,1467 L746.7,1762.6 M849.6,1467 L849.6,1762.6 M953,1467 L953,1762.6 M671,1540.4 L1028.6,1540.4 M671,1612.4 L1028.6,1612.4 M671,1684.1 L1028.6,1684.1" stroke="#cbcbcb" stroke-width="1.8" fill="none"/>
<g fill="#3a5bc3" stroke="#2a47a6" stroke-width="0.8"><rect x="811.30" y="1726.80" width="3.30" height="28.30"/><rect x="814.60" y="1685.00" width="3.60" height="70.10"/><rect x="818.20" y="1631.00" width="3.40" height="124.10"/><rect x="821.60" y="1577.50" width="3.40" height="177.60"/><rect x="825.00" y="1532.20" width="3.60" height="222.90"/><rect x="828.60" y="1508.40" width="3.90" height="246.70"/><rect x="832.50" y="1506.10" width="4.00" height="249.00"/><rect x="836.50" y="1531.10" width="4.00" height="224.00"/><rect x="840.50" y="1572.90" width="3.70" height="182.20"/><rect x="844.20" y="1628.10" width="3.60" height="127.00"/><rect x="847.80" y="1682.70" width="2.80" height="72.40"/><rect x="850.60" y="1725.70" width="2.70" height="29.40"/></g>
<g fill="#3a5bc3" stroke="#2a47a6" stroke-width="0.8"><rect x="997.10" y="1732.10" width="2.90" height="23.00"/><rect x="1000.00" y="1667.60" width="3.50" height="87.50"/><rect x="1003.50" y="1584.00" width="3.80" height="171.10"/><rect x="1007.30" y="1513.60" width="3.70" height="241.50"/><rect x="1011.00" y="1493.30" width="3.50" height="261.80"/><rect x="1014.50" y="1539.80" width="2.90" height="215.30"/><rect x="1017.40" y="1646.40" width="2.40" height="108.70"/></g>
<path d="M841.7,1598.5 L842.2,1596.6 L842.8,1594.6 L843.4,1592.6 L843.9,1590.6 L844.5,1588.6 L845.0,1586.8 L845.6,1585.3 L846.1,1584.0 L846.6,1583.0 L847.2,1582.2 L847.7,1581.5 L848.2,1580.9 L848.7,1580.5 L849.3,1580.2 L849.8,1579.9 L850.3,1579.8 L850.8,1579.7 L851.4,1579.6 L851.9,1579.6 L852.4,1579.6 L852.9,1579.6 L853.4,1579.6 L853.9,1579.6 L854.4,1579.6 L854.9,1579.6 L855.4,1579.6 L855.9,1579.6 L856.4,1579.6 L856.9,1579.6 L857.4,1579.6 L857.9,1579.6 L858.4,1579.6 L858.9,1579.6 L859.4,1579.6 L859.9,1579.6 L860.4,1579.6 L860.9,1579.6 L861.4,1579.6 L861.9,1579.6 L862.4,1579.6 L862.9,1579.6 L863.4,1579.6 L863.9,1579.6 L864.4,1579.6 L864.9,1579.6 L865.4,1579.6 L865.9,1579.6 L866.4,1579.6 L866.9,1579.6 L867.4,1579.6 L867.9,1579.6 L868.4,1579.6 L868.9,1579.6 L869.4,1579.6 L869.9,1579.6 L870.4,1579.6 L870.9,1579.6 L871.4,1579.6 L871.9,1579.6 L872.4,1579.6 L872.9,1579.6 L873.4,1579.6 L873.9,1579.6 L874.4,1579.6 L874.9,1579.6 L875.4,1579.6 L876.0,1579.6 L876.5,1579.6 L877.0,1579.6 L877.5,1579.6 L878.0,1579.6 L878.5,1579.6 L879.0,1579.6 L879.5,1579.6 L880.0,1579.6 L880.5,1579.6 L881.0,1579.6 L881.5,1579.6 L882.0,1579.6 L882.5,1579.6 L883.0,1579.6 L883.5,1579.6 L884.0,1579.6 L884.5,1579.6 L885.0,1579.6 L885.5,1579.6 L886.0,1579.6 L886.5,1579.6 L887.0,1579.6 L887.5,1579.6 L888.0,1579.6 L888.5,1579.6 L889.0,1579.6 L889.5,1579.6 L890.0,1579.6 L890.5,1579.6 L891.0,1579.6 L891.5,1579.6 L892.0,1579.6 L892.5,1579.6 L893.0,1579.6 L893.5,1579.6 L894.0,1579.6 L894.5,1579.6 L895.0,1579.6 L895.5,1579.6 L896.0,1579.6 L896.5,1579.6 L897.0,1579.6 L897.5,1579.6 L898.0,1579.6 L898.5,1579.6 L899.0,1579.6 L899.5,1579.6 L900.0,1579.6 L900.5,1579.6 L901.0,1579.6 L901.5,1579.6 L902.0,1579.6 L902.5,1579.6 L903.0,1579.6 L903.5,1579.6 L904.0,1579.6 L904.5,1579.6 L905.0,1579.6 L905.5,1579.6 L906.0,1579.6 L906.5,1579.6 L907.0,1579.6 L907.5,1579.6 L908.0,1579.6 L908.5,1579.6 L909.0,1579.6 L909.5,1579.6 L910.0,1579.6 L910.5,1579.6 L911.0,1579.6 L911.5,1579.6 L912.0,1579.6 L912.5,1579.6 L913.0,1579.6 L913.5,1579.6 L914.0,1579.6 L914.5,1579.6 L915.0,1579.6 L915.5,1579.6 L916.0,1579.6 L916.5,1579.6 L917.0,1579.6 L917.5,1579.6 L918.0,1579.6 L918.5,1579.6 L919.0,1579.6 L919.5,1579.6 L920.0,1579.6 L920.5,1579.6 L921.0,1579.6 L921.5,1579.6 L922.0,1579.6 L922.5,1579.6 L923.0,1579.6 L923.6,1579.6 L924.1,1579.6 L924.6,1579.6 L925.1,1579.6 L925.6,1579.6 L926.1,1579.6 L926.6,1579.6 L927.1,1579.6 L927.6,1579.6 L928.1,1579.6 L928.6,1579.6 L929.1,1579.6 L929.6,1579.6 L930.1,1579.6 L930.6,1579.6 L931.1,1579.6 L931.6,1579.6 L932.1,1579.6 L932.6,1579.6 L933.1,1579.6 L933.6,1579.6 L934.1,1579.6 L934.6,1579.6 L935.1,1579.6 L935.6,1579.6 L936.1,1579.6 L936.6,1579.6 L937.1,1579.6 L937.6,1579.6 L938.1,1579.6 L938.6,1579.6 L939.1,1579.6 L939.6,1579.6 L940.1,1579.6 L940.6,1579.6 L941.1,1579.6 L941.6,1579.6 L942.1,1579.6 L942.6,1579.6 L943.1,1579.6 L943.6,1579.6 L944.1,1579.6 L944.6,1579.6 L945.1,1579.6 L945.6,1579.6 L946.1,1579.6 L946.6,1579.6 L947.1,1579.6 L947.6,1579.6 L948.1,1579.6 L948.6,1579.6 L949.1,1579.6 L949.6,1579.6 L950.1,1579.6 L950.6,1579.6 L951.1,1579.6 L951.6,1579.6 L952.1,1579.6 L952.6,1579.6 L953.1,1579.6 L953.6,1579.6 L954.1,1579.6 L954.6,1579.6 L955.1,1579.6 L955.6,1579.6 L956.1,1579.6 L956.6,1579.6 L957.1,1579.6 L957.6,1579.6 L958.1,1579.6 L958.6,1579.6 L959.1,1579.6 L959.6,1579.6 L960.1,1579.6 L960.6,1579.6 L961.1,1579.6 L961.6,1579.6 L962.1,1579.6 L962.6,1579.6 L963.1,1579.6 L963.6,1579.6 L964.1,1579.6 L964.6,1579.6 L965.1,1579.6 L965.6,1579.6 L966.1,1579.6 L966.6,1579.6 L967.1,1579.6 L967.6,1579.6 L968.1,1579.6 L968.6,1579.6 L969.1,1579.6 L969.6,1579.6 L970.1,1579.6 L970.7,1579.6 L971.2,1579.6 L971.7,1579.6 L972.2,1579.6 L972.7,1579.6 L973.2,1579.6 L973.7,1579.6 L974.2,1579.6 L974.7,1579.6 L975.2,1579.6 L975.7,1579.6 L976.2,1579.6 L976.7,1579.6 L977.2,1579.6 L977.7,1579.6 L978.2,1579.6 L978.7,1579.6 L979.2,1579.6 L979.7,1579.6 L980.2,1579.6 L980.7,1579.6 L981.2,1579.6 L981.7,1579.6 L982.2,1579.6 L982.7,1579.6 L983.2,1579.6 L983.7,1579.6 L984.2,1579.6 L984.7,1579.6 L985.2,1579.6 L985.7,1579.6 L986.2,1579.6 L986.7,1579.6 L987.2,1579.6 L987.7,1579.6 L988.2,1579.6 L988.7,1579.6 L989.2,1579.6 L989.7,1579.6 L990.2,1579.6 L990.7,1579.6 L991.2,1579.6 L991.7,1579.6 L992.2,1579.6 L992.7,1579.6 L993.2,1579.6 L993.7,1579.6 L994.2,1579.6 L994.7,1579.6 L995.3,1579.5 L995.8,1579.3 L996.3,1579.1 L996.8,1578.7 L997.4,1578.1 L997.9,1577.4 L998.4,1576.5 L998.9,1575.3 L999.5,1573.9 L1000.0,1572.3 L1000.5,1570.4 L1001.1,1568.2 L1001.6,1565.8 L1002.1,1563.1 L1002.6,1560.3 L1003.2,1557.3 L1003.7,1554.1 L1004.2,1550.8 L1004.7,1547.4 L1005.3,1543.9 L1005.8,1540.4 L1006.3,1536.6 L1006.9,1532.5 L1007.4,1528.0 L1007.9,1523.4 L1008.4,1518.7 L1009.0,1514.0 L1009.5,1509.4 L1010.0,1505.0 L1010.5,1500.8 L1011.1,1497.1 L1011.6,1493.9 L1012.1,1491.2 L1012.6,1488.7 L1013.2,1486.6 L1013.7,1484.7 L1014.2,1483.0 L1014.7,1481.5 L1015.2,1480.1 L1015.8,1478.8 L1016.3,1477.5 L1016.8,1476.3 L1017.3,1475.0 L1017.9,1473.7 L1018.4,1472.3 L1018.9,1470.7" fill="none" stroke="#a83a58" stroke-width="1.2" stroke-linejoin="round"/>
<rect x="673" y="1469" width="348.6" height="287.5999999999999" fill="none" stroke="#000" stroke-width="4.2"/>
<rect x="642.0" y="1463.5" width="26.0" height="20" fill="#fff" opacity="0.85"/>
<text x="666.0" y="1479.5" font-size="22" font-family="'Liberation Serif', 'Times New Roman', serif" font-weight="bold" fill="#000" text-anchor="end">10</text>
<rect x="651.0" y="1607.0" width="15.0" height="20" fill="#fff" opacity="0.85"/>
<text x="664.0" y="1623.0" font-size="22" font-family="'Liberation Serif', 'Times New Roman', serif" font-weight="bold" fill="#000" text-anchor="end">5</text>
<rect x="651.0" y="1749.5" width="15.0" height="20" fill="#fff" opacity="0.85"/>
<text x="664.0" y="1765.5" font-size="22" font-family="'Liberation Serif', 'Times New Roman', serif" font-weight="bold" fill="#000" text-anchor="end">0</text>
<rect x="1028.5" y="1461.7" width="27" height="18" fill="#fff"/>
<text x="1030.5" y="1475.7" font-size="15" font-family="'Liberation Serif', 'Times New Roman', serif" font-weight="bold" fill="#4444a4" textLength="22.0" lengthAdjust="spacingAndGlyphs">100</text>
<text x="1034.5" y="1549.7" font-size="14" font-family="'Liberation Serif', 'Times New Roman', serif" font-weight="bold" fill="#4848aa" textLength="14.0" lengthAdjust="spacingAndGlyphs">75</text>
<text x="1035.0" y="1615.6" font-size="9" font-family="'Liberation Sans', Arial, sans-serif" font-weight="normal" fill="#5858a8">50</text>
<text x="1035.0" y="1687.3" font-size="9" font-family="'Liberation Sans', Arial, sans-serif" font-weight="normal" fill="#5858a8">25</text>
<text x="1041.0" y="1760.8" font-size="9" font-family="'Liberation Sans', Arial, sans-serif" font-weight="normal" fill="#5858a8">0</text>
<text x="676.2" y="1786.1" font-size="27.5" font-family="'Liberation Serif', 'Times New Roman', serif" font-weight="bold" fill="#000" text-anchor="middle" textLength="13.5" lengthAdjust="spacingAndGlyphs">0</text>
<text x="747.3" y="1786.1" font-size="27.5" font-family="'Liberation Serif', 'Times New Roman', serif" font-weight="bold" fill="#000" text-anchor="middle" textLength="40.5" lengthAdjust="spacingAndGlyphs">100</text>
<text x="846.1" y="1784.6" font-size="27.5" font-family="'Liberation Serif', 'Times New Roman', serif" font-weight="bold" fill="#000" text-anchor="middle" textLength="54.0" lengthAdjust="spacingAndGlyphs">1000</text>
<text x="959.4" y="1786.1" font-size="27.5" font-family="'Liberation Serif', 'Times New Roman', serif" font-weight="bold" fill="#000" text-anchor="middle" textLength="67.5" lengthAdjust="spacingAndGlyphs">10000</text>
<text x="820.5" y="1809.0" font-size="28" font-family="'Liberation Serif', 'Times New Roman', serif" font-weight="bold" fill="#000" text-anchor="middle" textLength="175.0" lengthAdjust="spacingAndGlyphs">Diameter (nm)</text>
<text x="640.0" y="1613.7" font-size="21" font-family="'Liberation Serif', 'Times New Roman', serif" font-weight="bold" fill="#000" text-anchor="middle" textLength="228.0" lengthAdjust="spacingAndGlyphs" transform="rotate(-90 640.0 1613.7)">Differential Intensity (%)</text>
<text x="1070.5" y="1610.8" font-size="21" font-family="'Liberation Serif', 'Times New Roman', serif" font-weight="bold" fill="#000" text-anchor="middle" textLength="231.0" lengthAdjust="spacingAndGlyphs" transform="rotate(-90 1070.5 1610.8)">Cumulative  Intensity (%)</text>
<text x="679.1" y="1494.3" font-size="22" font-family="'Liberation Sans', Arial, sans-serif" font-weight="bold" fill="#000" textLength="266.0" lengthAdjust="spacingAndGlyphs">Diameter =  1585 ± 90 nm</text>
<text x="679.1" y="1547.2" font-size="22" font-family="'Liberation Sans', Arial, sans-serif" font-weight="bold" fill="#000" textLength="117.6" lengthAdjust="spacingAndGlyphs">PDI = 0.711</text>
<rect x="1204.5" y="1437.2" width="457.5" height="366.0" fill="url(#bg)"/>
<path d="M1204.5,1803.2 L1204.5,1437.2 L1660,1437.2" fill="none" stroke="#c6c6c6" stroke-width="1.3"/>
<path d="M1204.5,1803.2 L1307.6,1803.2 M1508,1803.2 L1662,1803.2" fill="none" stroke="#6e6e6e" stroke-width="2"/>
<line x1="1662" y1="1439" x2="1662" y2="1478" stroke="#6a6e76" stroke-width="1.8"/>
<line x1="1666" y1="1439" x2="1666" y2="1478" stroke="#9a9a9a" stroke-width="1.3" stroke-dasharray="2.5,2.5"/>
<line x1="1662" y1="1715" x2="1662" y2="1803" stroke="#6a6e76" stroke-width="1.8"/>
<line x1="1666" y1="1715" x2="1666" y2="1803" stroke="#9a9a9a" stroke-width="1.3" stroke-dasharray="2.5,2.5"/>
<path d="M1354.1,1463 L1354.1,1759.9 M1449.4,1463 L1449.4,1759.9 M1547.8,1463 L1547.8,1759.9 M1251.8,1536.8 L1611.8,1536.8 M1251.8,1593.5 L1611.8,1593.5 M1251.8,1609.4 L1611.8,1609.4 M1251.8,1681.2 L1611.8,1681.2" stroke="#cbcbcb" stroke-width="1.8" fill="none"/>
<g fill="#3a5bc3" stroke="#2a47a6" stroke-width="0.8"><rect x="1395.60" y="1732.30" width="3.50" height="20.10"/><rect x="1399.10" y="1700.90" width="4.40" height="51.50"/><rect x="1403.50" y="1660.80" width="3.80" height="91.60"/><rect x="1407.30" y="1621.10" width="2.90" height="131.30"/><rect x="1410.20" y="1587.70" width="3.40" height="164.70"/><rect x="1413.60" y="1569.60" width="4.40" height="182.80"/><rect x="1418.00" y="1566.70" width="2.90" height="185.70"/><rect x="1420.90" y="1578.40" width="3.80" height="174.00"/><rect x="1424.70" y="1603.60" width="4.10" height="148.80"/><rect x="1428.80" y="1636.40" width="3.70" height="116.00"/><rect x="1432.50" y="1671.30" width="3.80" height="81.10"/><rect x="1436.30" y="1702.40" width="3.50" height="50.00"/><rect x="1439.80" y="1725.60" width="4.30" height="26.80"/><rect x="1444.10" y="1740.10" width="4.40" height="12.30"/><rect x="1448.50" y="1738.70" width="3.80" height="13.70"/><rect x="1452.30" y="1718.90" width="3.50" height="33.50"/><rect x="1455.80" y="1702.40" width="4.30" height="50.00"/><rect x="1460.10" y="1687.90" width="4.40" height="64.50"/><rect x="1464.50" y="1682.10" width="3.80" height="70.30"/><rect x="1468.30" y="1683.50" width="3.40" height="68.90"/><rect x="1471.70" y="1692.20" width="3.50" height="60.20"/><rect x="1475.20" y="1709.10" width="3.80" height="43.30"/><rect x="1479.00" y="1728.50" width="3.80" height="23.90"/></g>
<rect x="1397.80" y="1730.00" width="1.20" height="22.40" fill="#fff"/>
<g fill="#3a5bc3" stroke="#2a47a6" stroke-width="0.8"><rect x="1579.20" y="1742.20" width="3.50" height="10.20"/><rect x="1582.70" y="1694.50" width="2.90" height="57.90"/><rect x="1585.60" y="1616.70" width="3.80" height="135.70"/><rect x="1589.40" y="1536.80" width="4.30" height="215.60"/><rect x="1593.70" y="1481.60" width="2.90" height="270.80"/><rect x="1596.60" y="1481.60" width="2.90" height="270.80"/><rect x="1599.50" y="1543.50" width="3.50" height="208.90"/></g>
<rect x="1397.80" y="1730.00" width="1.20" height="22.40" fill="#fff"/>
<path d="M1429.6,1635.6 L1430.1,1634.9 L1430.6,1634.1 L1431.2,1633.3 L1431.7,1632.5 L1432.2,1631.7 L1432.7,1630.9 L1433.2,1630.1 L1433.8,1629.3 L1434.3,1628.6 L1434.8,1627.8 L1435.3,1627.2 L1435.9,1626.5 L1436.4,1625.9 L1436.9,1625.4 L1437.4,1624.9 L1437.9,1624.5 L1438.4,1624.2 L1438.9,1623.8 L1439.4,1623.5 L1439.9,1623.2 L1440.4,1623.0 L1440.9,1622.7 L1441.4,1622.5 L1441.9,1622.3 L1442.4,1622.1 L1442.9,1622.0 L1443.4,1621.8 L1443.9,1621.6 L1444.4,1621.5 L1444.9,1621.3 L1445.4,1621.2 L1445.9,1621.0 L1446.4,1620.9 L1446.9,1620.7 L1447.4,1620.5 L1447.9,1620.3 L1448.4,1620.1 L1448.9,1619.8 L1449.4,1619.6 L1449.9,1619.3 L1450.4,1618.9 L1450.9,1618.6 L1451.4,1618.2 L1451.9,1617.8 L1452.4,1617.3 L1452.9,1616.9 L1453.4,1616.4 L1453.9,1615.9 L1454.4,1615.4 L1454.9,1614.9 L1455.4,1614.4 L1455.9,1613.8 L1456.4,1613.2 L1456.9,1612.7 L1457.5,1612.1 L1458.0,1611.5 L1458.5,1610.9 L1459.0,1610.3 L1459.5,1609.6 L1460.0,1609.0 L1460.5,1608.4 L1461.0,1607.7 L1461.5,1607.1 L1462.0,1606.4 L1462.5,1605.8 L1463.0,1605.1 L1463.5,1604.4 L1464.0,1603.7 L1464.5,1603.0 L1465.0,1602.2 L1465.5,1601.5 L1466.0,1600.7 L1466.5,1599.8 L1467.0,1599.0 L1467.5,1598.2 L1468.0,1597.3 L1468.5,1596.5 L1469.0,1595.6 L1469.5,1594.8 L1470.0,1593.9 L1470.5,1593.1 L1471.0,1592.2 L1471.5,1591.4 L1472.0,1590.6 L1472.5,1589.8 L1473.0,1589.0 L1473.5,1588.2 L1474.0,1587.5 L1474.5,1586.8 L1475.0,1586.1 L1475.5,1585.5 L1476.0,1584.9 L1476.5,1584.3 L1477.0,1583.8 L1477.5,1583.3 L1478.0,1582.8 L1478.6,1582.5 L1479.1,1582.2 L1479.6,1581.9 L1480.2,1581.7 L1480.7,1581.6 L1481.3,1581.4 L1481.8,1581.4 L1482.3,1581.3 L1482.9,1581.3 L1483.4,1581.3 L1483.9,1581.3 L1484.4,1581.3 L1484.9,1581.3 L1485.4,1581.3 L1485.9,1581.3 L1486.4,1581.3 L1486.9,1581.3 L1487.4,1581.3 L1487.9,1581.3 L1488.4,1581.3 L1488.9,1581.3 L1489.4,1581.3 L1489.9,1581.3 L1490.4,1581.3 L1490.9,1581.3 L1491.4,1581.3 L1491.9,1581.3 L1492.4,1581.3 L1492.9,1581.3 L1493.4,1581.3 L1493.9,1581.3 L1494.4,1581.3 L1494.9,1581.3 L1495.5,1581.3 L1496.0,1581.3 L1496.5,1581.3 L1497.0,1581.3 L1497.5,1581.3 L1498.0,1581.3 L1498.5,1581.3 L1499.0,1581.3 L1499.5,1581.3 L1500.0,1581.3 L1500.5,1581.3 L1501.0,1581.3 L1501.5,1581.3 L1502.0,1581.3 L1502.5,1581.3 L1503.0,1581.3 L1503.5,1581.3 L1504.0,1581.3 L1504.5,1581.3 L1505.0,1581.3 L1505.5,1581.3 L1506.0,1581.3 L1506.5,1581.3 L1507.0,1581.3 L1507.5,1581.3 L1508.0,1581.3 L1508.5,1581.3 L1509.0,1581.3 L1509.5,1581.3 L1510.0,1581.3 L1510.5,1581.3 L1511.0,1581.3 L1511.5,1581.3 L1512.0,1581.3 L1512.5,1581.3 L1513.0,1581.3 L1513.5,1581.3 L1514.0,1581.3 L1514.5,1581.3 L1515.0,1581.3 L1515.5,1581.3 L1516.0,1581.3 L1516.5,1581.3 L1517.0,1581.3 L1517.5,1581.3 L1518.0,1581.3 L1518.5,1581.3 L1519.1,1581.3 L1519.6,1581.3 L1520.1,1581.3 L1520.6,1581.3 L1521.1,1581.3 L1521.6,1581.3 L1522.1,1581.3 L1522.6,1581.3 L1523.1,1581.3 L1523.6,1581.3 L1524.1,1581.3 L1524.6,1581.3 L1525.1,1581.3 L1525.6,1581.3 L1526.1,1581.3 L1526.6,1581.3 L1527.1,1581.3 L1527.6,1581.3 L1528.1,1581.3 L1528.6,1581.3 L1529.1,1581.3 L1529.6,1581.3 L1530.1,1581.3 L1530.6,1581.3 L1531.1,1581.3 L1531.6,1581.3 L1532.1,1581.3 L1532.6,1581.3 L1533.1,1581.3 L1533.6,1581.3 L1534.1,1581.3 L1534.6,1581.3 L1535.1,1581.3 L1535.6,1581.3 L1536.1,1581.3 L1536.6,1581.3 L1537.1,1581.3 L1537.6,1581.3 L1538.1,1581.3 L1538.6,1581.3 L1539.1,1581.3 L1539.6,1581.3 L1540.1,1581.3 L1540.6,1581.3 L1541.1,1581.3 L1541.6,1581.3 L1542.1,1581.3 L1542.7,1581.3 L1543.2,1581.3 L1543.7,1581.3 L1544.2,1581.3 L1544.7,1581.3 L1545.2,1581.3 L1545.7,1581.3 L1546.2,1581.3 L1546.7,1581.3 L1547.2,1581.3 L1547.7,1581.3 L1548.2,1581.3 L1548.7,1581.3 L1549.2,1581.3 L1549.7,1581.3 L1550.2,1581.3 L1550.7,1581.3 L1551.2,1581.3 L1551.7,1581.3 L1552.2,1581.3 L1552.7,1581.3 L1553.2,1581.3 L1553.7,1581.3 L1554.2,1581.3 L1554.7,1581.3 L1555.2,1581.3 L1555.7,1581.3 L1556.2,1581.3 L1556.7,1581.3 L1557.2,1581.3 L1557.7,1581.3 L1558.2,1581.3 L1558.7,1581.3 L1559.2,1581.3 L1559.7,1581.3 L1560.2,1581.3 L1560.7,1581.3 L1561.2,1581.3 L1561.7,1581.3 L1562.2,1581.3 L1562.7,1581.3 L1563.2,1581.3 L1563.7,1581.3 L1564.2,1581.3 L1564.7,1581.3 L1565.2,1581.3 L1565.7,1581.3 L1566.3,1581.3 L1566.8,1581.3 L1567.3,1581.3 L1567.8,1581.3 L1568.3,1581.3 L1568.8,1581.3 L1569.3,1581.3 L1569.8,1581.3 L1570.3,1581.3 L1570.8,1581.3 L1571.3,1581.3 L1571.8,1581.3 L1572.3,1581.3 L1572.8,1581.3 L1573.3,1581.3 L1573.8,1581.3 L1574.3,1581.3 L1574.8,1581.3 L1575.3,1581.3 L1575.8,1581.3 L1576.3,1581.3 L1576.8,1581.3 L1577.3,1581.3 L1577.8,1581.3 L1578.3,1581.3 L1578.8,1581.1 L1579.3,1580.9 L1579.9,1580.6 L1580.4,1580.2 L1580.9,1579.6 L1581.4,1578.9 L1581.9,1578.1 L1582.4,1577.2 L1582.9,1576.1 L1583.5,1574.9 L1584.0,1573.5 L1584.5,1571.9 L1585.0,1570.2 L1585.5,1568.2 L1586.0,1566.0 L1586.6,1563.5 L1587.1,1560.8 L1587.6,1557.9 L1588.1,1554.9 L1588.7,1551.8 L1589.2,1548.6 L1589.7,1545.4 L1590.2,1542.2 L1590.7,1538.9 L1591.3,1535.7 L1591.8,1532.6 L1592.3,1529.6 L1592.8,1526.7 L1593.3,1523.9 L1593.8,1521.0 L1594.3,1518.1 L1594.8,1515.2 L1595.3,1512.3 L1595.8,1509.4 L1596.3,1506.5 L1596.8,1503.6 L1597.3,1500.7 L1597.9,1497.8 L1598.4,1494.8 L1598.9,1491.9 L1599.4,1489.0 L1599.9,1486.1 L1600.4,1483.2 L1600.9,1480.2 L1601.4,1477.3 L1601.9,1474.4 L1602.4,1471.5" fill="none" stroke="#a83a58" stroke-width="1.2" stroke-linejoin="round"/>
<rect x="1253.8" y="1465" width="351.0" height="288.9000000000001" fill="none" stroke="#000" stroke-width="4.2"/>
<rect x="1232.0" y="1589.0" width="15.0" height="20" fill="#fff" opacity="0.85"/>
<text x="1245.0" y="1605.0" font-size="22" font-family="'Liberation Serif', 'Times New Roman', serif" font-weight="bold" fill="#000" text-anchor="end">5</text>
<rect x="1232.0" y="1746.0" width="15.0" height="20" fill="#fff" opacity="0.85"/>
<text x="1245.0" y="1762.0" font-size="22" font-family="'Liberation Serif', 'Times New Roman', serif" font-weight="bold" fill="#000" text-anchor="end">0</text>
<rect x="1616.4" y="1459.0" width="27" height="18" fill="#fff"/>
<text x="1618.4" y="1473.0" font-size="15" font-family="'Liberation Serif', 'Times New Roman', serif" font-weight="bold" fill="#4444a4" textLength="22.0" lengthAdjust="spacingAndGlyphs">100</text>
<text x="1622.5" y="1546.2" font-size="14" font-family="'Liberation Serif', 'Times New Roman', serif" font-weight="bold" fill="#4848aa" textLength="14.0" lengthAdjust="spacingAndGlyphs">75</text>
<text x="1623.0" y="1613.2" font-size="9" font-family="'Liberation Sans', Arial, sans-serif" font-weight="normal" fill="#5858a8">50</text>
<text x="1623.0" y="1684.4" font-size="9" font-family="'Liberation Sans', Arial, sans-serif" font-weight="normal" fill="#5858a8">25</text>
<text x="1629.0" y="1757.9" font-size="9" font-family="'Liberation Sans', Arial, sans-serif" font-weight="normal" fill="#5858a8">0</text>
<text x="1255.4" y="1782.5" font-size="27.5" font-family="'Liberation Serif', 'Times New Roman', serif" font-weight="bold" fill="#000" text-anchor="middle" textLength="13.5" lengthAdjust="spacingAndGlyphs">0</text>
<text x="1354.1" y="1781.1" font-size="27.5" font-family="'Liberation Serif', 'Times New Roman', serif" font-weight="bold" fill="#000" text-anchor="middle" textLength="40.5" lengthAdjust="spacingAndGlyphs">100</text>
<text x="1445.6" y="1779.6" font-size="27.5" font-family="'Liberation Serif', 'Times New Roman', serif" font-weight="bold" fill="#000" text-anchor="middle" textLength="54.0" lengthAdjust="spacingAndGlyphs">1000</text>
<text x="1548.7" y="1782.5" font-size="27.5" font-family="'Liberation Serif', 'Times New Roman', serif" font-weight="bold" fill="#000" text-anchor="middle" textLength="67.5" lengthAdjust="spacingAndGlyphs">10000</text>
<text x="1401.5" y="1805.5" font-size="28" font-family="'Liberation Serif', 'Times New Roman', serif" font-weight="bold" fill="#000" text-anchor="middle" textLength="175.0" lengthAdjust="spacingAndGlyphs">Diameter (nm)</text>
<text x="1226.5" y="1613.0" font-size="21" font-family="'Liberation Serif', 'Times New Roman', serif" font-weight="bold" fill="#000" text-anchor="middle" textLength="228.0" lengthAdjust="spacingAndGlyphs" transform="rotate(-90 1226.5 1613.0)">Differential Intensity (%)</text>
<text x="1659.3" y="1596.4" font-size="21" font-family="'Liberation Serif', 'Times New Roman', serif" font-weight="bold" fill="#000" text-anchor="middle" textLength="232.0" lengthAdjust="spacingAndGlyphs" transform="rotate(-90 1659.3 1596.4)">Cumulative  Intensity (%)</text>
<text x="1262.6" y="1491.2" font-size="22" font-family="'Liberation Sans', Arial, sans-serif" font-weight="bold" fill="#000" textLength="265.8" lengthAdjust="spacingAndGlyphs">Diameter = 1395 ± 50 nm</text>
<text x="1262.6" y="1543.5" font-size="22" font-family="'Liberation Sans', Arial, sans-serif" font-weight="bold" fill="#000" textLength="104.6" lengthAdjust="spacingAndGlyphs">PDI = 0.69</text>
<text x="882.2" y="62.2" font-size="42" font-family="'Liberation Sans', Arial, sans-serif" font-weight="bold" fill="#000" text-anchor="middle" textLength="47.7" lengthAdjust="spacingAndGlyphs">(a)</text>
<text x="886.2" y="510.8" font-size="42" font-family="'Liberation Sans', Arial, sans-serif" font-weight="bold" fill="#000" text-anchor="middle" textLength="49.8" lengthAdjust="spacingAndGlyphs">(b)</text>
<text x="876.9" y="958.0" font-size="42" font-family="'Liberation Sans', Arial, sans-serif" font-weight="bold" fill="#000" text-anchor="middle" textLength="44.8" lengthAdjust="spacingAndGlyphs">(c)</text>
<text x="861.0" y="1419.0" font-size="42" font-family="'Liberation Sans', Arial, sans-serif" font-weight="bold" fill="#000" text-anchor="middle" textLength="50.2" lengthAdjust="spacingAndGlyphs">(d)</text>
</svg>
</body></html>
